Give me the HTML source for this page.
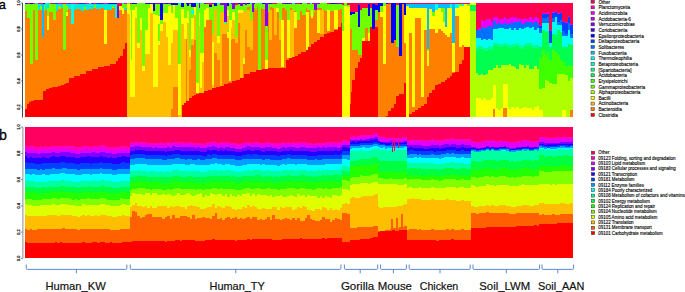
<!DOCTYPE html>
<html><head><meta charset="utf-8"><style>
html,body{margin:0;padding:0;background:#fff;width:685px;height:292px;overflow:hidden}
svg{display:block;font-family:"Liberation Sans",sans-serif}
</style></head><body>
<svg width="685" height="292" viewBox="0 0 685 292">
<rect width="685" height="292" fill="#fff"/>
<defs><filter id="sb" x="0" y="0" width="1" height="1"><feGaussianBlur stdDeviation="0.45"/></filter></defs>
<g shape-rendering="crispEdges" filter="url(#sb)">
<path fill="#ff8000" d="M25 11h2v98h-2zM27 18h2v86h-2zM29 18h1v84h-1zM30 64h1v38h-1zM31 64h2v37h-2zM33 10h1v91h-1zM34 10h1v90h-1zM35 60h3v40h-3zM38 10h4v90h-4zM42 37h1v63h-1zM43 37h1v54h-1zM44 11h1v80h-1zM45 10h1v81h-1zM46 10h1v79h-1zM47 30h2v59h-2zM49 12h3v76h-3zM52 12h1v75h-1zM53 20h3v67h-3zM56 11h2v76h-2zM58 9h3v77h-3zM61 8h2v77h-2zM63 50h1v35h-1zM64 50h2v34h-2zM66 11h2v1h-2zM66 16h2v67h-2zM68 9h1v74h-1zM69 9h2v69h-2zM71 24h3v54h-3zM74 10h2v66h-2zM76 9h4v67h-4zM80 9h1v65h-1zM81 11h3v63h-3zM84 10h2v64h-2zM86 10h3v61h-3zM89 9h3v62h-3zM92 9h2v60h-2zM94 8h2v61h-2zM96 9h2v60h-2zM98 9h3v58h-3zM101 8h3v59h-3zM104 44h3v22h-3zM107 10h3v56h-3zM110 10h2v54h-2zM112 8h3v56h-3zM115 18h1v46h-1zM116 18h2v43h-2zM118 18h1v40h-1zM119 10h1v48h-1zM120 10h2v46h-2zM122 14h1v42h-1zM123 14h1v35h-1zM124 10h1v39h-1zM125 10h2v33h-2zM171 109h2v8h-2zM173 87h5v30h-5zM186 39h1v62h-1zM189 70h2v28h-2zM191 45h1v53h-1zM192 45h2v51h-2zM194 40h2v55h-2zM196 93h3v1h-3zM204 27h2v64h-2zM206 20h2v71h-2zM208 20h4v70h-4zM214 53h2v35h-2zM216 53h1v34h-1zM217 60h3v27h-3zM222 34h2v52h-2zM224 34h3v50h-3zM227 38h1v46h-1zM228 38h1v45h-1zM229 81h2v2h-2zM231 40h1v43h-1zM232 39h3v42h-3zM235 43h1v38h-1zM236 43h2v37h-2zM238 23h2v57h-2zM243 64h1v14h-1zM244 64h1v10h-1zM245 30h2v44h-2zM247 47h3v27h-3zM247 7h3v3h-3zM250 50h3v22h-3zM253 12h1v60h-1zM254 8h1v64h-1zM255 10h1v62h-1zM256 10h1v60h-1zM257 7h1v63h-1zM261 8h1v62h-1zM262 9h3v60h-3zM268 12h1v56h-1zM269 40h3v28h-3zM270 7h2v3h-2zM272 8h2v60h-2zM274 35h3v33h-3zM277 12h2v56h-2zM279 40h2v28h-2zM281 67h3v1h-3zM282 8h2v12h-2zM284 8h1v60h-1zM285 10h1v58h-1zM286 10h1v50h-1zM287 58h2v2h-2zM290 8h2v2h-2zM294 28h1v29h-1zM294 11h2v1h-2zM295 28h2v28h-2zM297 20h1v36h-1zM298 20h2v34h-2zM300 11h1v43h-1zM301 11h1v41h-1zM302 15h4v37h-4zM306 8h1v4h-1zM307 10h2v2h-2zM309 10h1v37h-1zM310 16h1v31h-1zM311 18h2v26h-2zM313 16h1v28h-1zM314 12h1v30h-1zM315 10h2v32h-2zM317 33h3v7h-3zM317 8h5v2h-5zM320 34h4v3h-4zM324 10h1v24h-1zM325 11h2v23h-2zM327 31h3v2h-3zM330 11h4v21h-4zM334 29h4v1h-4zM338 10h2v17h-2zM340 9h1v18h-1zM341 9h1v14h-1zM350 29h1v75h-1zM351 29h1v63h-1zM352 50h3v30h-3zM355 50h3v18h-3zM358 55h2v7h-2zM360 55h2v3h-2zM365 28h3v13h-3zM375 20h3v7h-3zM378 12h2v105h-2zM380 17h3v100h-3zM383 64h3v53h-3zM386 4h2v112h-2zM388 4h3v107h-3zM391 43h3v65h-3zM394 40h2v64h-2zM396 47h3v49h-3zM399 56h3v38h-3zM402 4h2v90h-2zM404 43h2v40h-2zM409 33h3v81h-3zM412 107h3v5h-3zM415 18h3v92h-3zM418 18h3v90h-3zM421 97h3v9h-3zM424 30h3v74h-3zM427 66h2v31h-2zM429 29h3v64h-3zM432 29h3v61h-3zM435 33h3v52h-3zM438 29h3v55h-3zM441 31h2v51h-2zM443 33h2v49h-2zM445 35h2v45h-2zM447 37h3v41h-3zM450 33h2v43h-2zM452 72h3v1h-3zM455 16h4v56h-4zM459 47h3v17h-3zM462 45h2v15h-2zM493 109h2v8h-2zM503 108h4v9h-4zM570 110h3v7h-3z"/>
<path fill="#00ecd8" d="M35 3h3v1h-3zM38 4h2v6h-2zM40 4h2v2h-2zM44 4h1v1h-1zM45 3h2v7h-2zM47 3h2v5h-2zM49 3h1v1h-1zM56 4h2v7h-2zM58 4h3v2h-3zM61 4h2v4h-2zM66 4h2v2h-2zM68 4h3v5h-3zM74 4h2v6h-2zM76 4h5v5h-5zM81 4h3v7h-3zM84 4h2v3h-2zM86 4h3v6h-3zM89 3h2v6h-2zM91 4h3v5h-3zM94 4h2v1h-2zM96 4h5v5h-5zM101 4h3v4h-3zM104 4h8v6h-8zM112 4h2v2h-2zM114 4h1v4h-1zM122 3h2v1h-2zM124 8h3v2h-3z"/>
<path fill="#70ff00" d="M25 4h2v7h-2zM27 4h3v14h-3zM30 4h3v60h-3zM33 4h2v6h-2zM35 4h3v56h-3zM40 6h2v4h-2zM44 5h1v6h-1zM47 8h2v8h-2zM49 4h4v8h-4zM53 4h3v16h-3zM58 6h3v3h-3zM63 4h3v46h-3zM66 6h2v5h-2zM84 7h2v3h-2zM94 5h2v3h-2zM112 6h2v2h-2zM122 4h5v4h-5zM127 3h3v1h-3zM130 4h1v6h-1zM131 4h1v56h-1zM132 4h3v6h-3zM135 4h2v3h-2zM137 3h3v40h-3zM140 3h2v15h-2zM142 3h3v63h-3zM145 4h3v26h-3zM148 4h2v4h-2zM153 11h2v3h-2zM155 4h3v11h-3zM158 24h2v17h-2zM158 4h2v12h-2zM160 20h3v4h-3zM163 4h5v9h-5zM168 4h3v2h-3zM171 5h2v8h-2zM175 5h3v13h-3zM178 4h3v60h-3zM181 7h3v2h-3zM184 3h2v15h-2zM186 4h1v14h-1zM187 6h2v5h-2zM189 4h2v46h-2zM191 7h3v3h-3zM191 14h3v4h-3zM196 4h3v79h-3zM199 10h1v3h-1zM200 4h2v49h-2zM202 3h2v50h-2zM204 4h2v6h-2zM206 4h3v4h-3zM209 7h3v13h-3zM212 4h2v30h-2zM214 6h3v3h-3zM217 4h3v32h-3zM220 5h4v7h-4zM224 23h3v1h-3zM227 30h2v2h-2zM227 6h2v4h-2zM229 4h3v16h-3zM232 9h3v3h-3zM235 5h3v32h-3zM238 4h2v6h-2zM240 6h3v4h-3zM243 4h2v6h-2zM245 5h2v7h-2zM247 4h3v3h-3zM250 4h2v16h-2zM252 12h1v8h-1zM254 4h1v4h-1zM255 3h2v7h-2zM257 3h1v4h-1zM258 3h2v67h-2zM260 4h1v66h-1zM261 4h1v4h-1zM262 4h3v5h-3zM265 26h3v34h-3zM268 4h1v8h-1zM269 4h1v6h-1zM270 4h2v3h-2zM272 4h5v4h-5zM277 3h2v5h-2zM279 3h3v17h-3zM282 4h3v4h-3zM285 4h2v6h-2zM287 4h3v16h-3zM290 4h2v4h-2zM292 4h2v6h-2zM294 4h2v7h-2zM296 4h1v8h-1zM297 4h3v16h-3zM300 4h2v7h-2zM302 3h3v12h-3zM305 4h1v11h-1zM306 4h1v4h-1zM307 4h3v6h-3zM310 4h1v12h-1zM311 4h2v6h-2zM313 4h1v12h-1zM314 10h1v2h-1zM317 4h3v4h-3zM320 3h2v5h-2zM322 3h3v7h-3zM325 3h2v8h-2zM327 4h3v6h-3zM330 4h4v7h-4zM334 4h6v6h-6zM340 4h2v5h-2zM342 5h2v26h-2zM344 3h3v3h-3zM347 5h3v2h-3zM350 15h2v14h-2zM352 14h3v36h-3zM355 12h3v38h-3zM358 27h2v28h-2zM360 10h2v45h-2zM362 8h3v30h-3zM365 8h3v20h-3zM368 16h2v17h-2zM370 8h2v19h-2zM375 10h3v10h-3zM380 6h3v6h-3zM383 3h3v3h-3zM396 5h3v42h-3zM427 49h2v2h-2zM432 12h3v4h-3zM441 8h2v4h-2zM443 8h2v14h-2zM459 4h3v2h-3zM467 4h3v2h-3z"/>
<path fill="#4000ff" d="M25 3h3v1h-3zM43 3h2v1h-2zM79 3h2v1h-2zM99 3h2v1h-2zM130 3h1v1h-1zM135 3h2v1h-2zM145 3h3v1h-3zM150 3h3v1h-3zM186 3h1v1h-1zM204 3h2v1h-2zM254 3h1v1h-1zM268 3h4v1h-4zM285 3h5v1h-5zM335 3h2v1h-2z"/>
<path fill="#ff0050" d="M28 3h2v1h-2zM38 3h5v1h-5zM50 3h3v1h-3zM61 3h5v1h-5zM76 3h3v1h-3zM117 3h5v3h-5zM131 3h1v1h-1zM206 3h3v1h-3zM209 3h3v2h-3zM235 3h3v2h-3zM272 3h5v1h-5zM297 3h3v1h-3zM307 3h3v1h-3zM312 3h2v1h-2zM327 3h3v1h-3zM342 3h2v2h-2zM347 3h3v2h-3zM350 3h8v9h-8zM358 3h2v2h-2zM360 3h2v7h-2zM362 3h6v5h-6zM368 3h2v1h-2zM370 3h2v5h-2zM372 3h3v1h-3zM375 3h3v2h-3zM388 3h3v1h-3zM396 3h3v2h-3zM406 3h64v1h-64zM476 3h2v27h-2zM478 3h3v25h-3zM481 3h2v17h-2zM483 3h3v18h-3zM486 3h5v16h-5zM491 3h2v18h-2zM493 3h5v14h-5zM498 3h6v16h-6zM504 3h2v14h-2zM506 3h3v16h-3zM509 3h2v15h-2zM511 3h5v14h-5zM516 3h3v15h-3zM519 3h5v16h-5zM524 3h2v15h-2zM526 3h3v16h-3zM529 3h3v14h-3zM532 3h2v16h-2zM534 3h3v14h-3zM537 3h2v15h-2zM539 3h3v22h-3zM542 3h5v10h-5zM547 3h2v9h-2zM549 3h3v27h-3zM552 3h3v9h-3zM555 3h2v8h-2zM557 3h3v10h-3zM560 3h2v9h-2zM562 3h3v18h-3zM565 3h3v19h-3zM568 3h2v13h-2zM570 3h3v21h-3z"/>
<path fill="#0000ff" d="M30 3h3v1h-3zM109 3h8v1h-8zM132 3h3v1h-3zM148 3h2v1h-2zM153 3h2v8h-2zM160 3h3v17h-3zM166 3h2v1h-2zM171 3h7v2h-7zM181 3h3v4h-3zM187 3h2v3h-2zM191 3h5v4h-5zM209 5h3v2h-3zM214 3h3v3h-3zM227 3h2v3h-2zM238 3h2v1h-2zM243 3h2v1h-2zM247 3h3v1h-3zM262 3h3v1h-3zM300 3h2v1h-2zM330 3h5v1h-5zM350 12h2v3h-2zM352 12h3v2h-3zM358 5h2v22h-2zM368 4h2v12h-2zM372 4h3v25h-3zM375 5h3v5h-3zM378 3h2v9h-2zM380 3h3v3h-3zM386 3h2v1h-2zM391 3h3v40h-3zM394 3h2v37h-2zM399 3h3v53h-3zM402 3h2v1h-2zM404 3h2v12h-2z"/>
<path fill="#e800ff" d="M33 3h2v1h-2zM58 3h3v1h-3zM66 3h2v1h-2zM71 3h5v1h-5zM86 3h3v1h-3zM94 3h2v1h-2zM104 3h3v1h-3zM124 3h3v1h-3zM478 28h3v2h-3zM481 20h2v7h-2zM483 21h3v7h-3zM486 19h2v8h-2zM488 19h3v7h-3zM491 21h2v6h-2zM493 17h3v4h-3zM496 17h2v7h-2zM498 19h3v4h-3zM501 19h3v5h-3zM504 17h2v6h-2zM506 19h3v5h-3zM509 18h2v5h-2zM511 17h3v6h-3zM514 17h2v5h-2zM516 18h3v4h-3zM519 19h2v2h-2zM521 19h3v5h-3zM524 18h2v5h-2zM526 19h3v3h-3zM529 17h3v5h-3zM532 19h2v4h-2zM534 17h3v5h-3zM537 18h2v5h-2zM539 25h3v1h-3zM542 13h5v1h-5zM547 12h2v2h-2zM549 30h3v1h-3zM552 12h3v1h-3zM555 11h2v1h-2zM557 13h3v1h-3zM560 12h2v1h-2zM562 21h3v1h-3zM565 22h3v1h-3zM568 16h2v1h-2zM570 24h3v1h-3z"/>
<path fill="#0040ff" d="M25 162h2v7h-2zM27 163h8v6h-8zM35 164h2v5h-2zM37 164h3v6h-3zM40 164h2v5h-2zM42 163h3v7h-3zM45 163h7v6h-7zM52 163h3v5h-3zM53 3h5v1h-5zM55 163h5v6h-5zM60 162h2v7h-2zM62 162h3v6h-3zM65 163h2v5h-2zM68 3h3v1h-3zM67 163h8v6h-8zM75 164h2v5h-2zM77 164h3v6h-3zM81 3h3v1h-3zM80 163h10v6h-10zM90 164h2v5h-2zM96 3h3v1h-3zM92 163h8v6h-8zM100 162h2v6h-2zM102 163h10v6h-10zM112 164h5v6h-5zM117 164h3v5h-3zM120 163h2v6h-2zM122 162h3v7h-3zM125 163h5v6h-5zM130 155h2v4h-2zM132 154h3v5h-3zM135 154h10v4h-10zM145 155h17v4h-17zM162 155h3v5h-3zM165 156h2v4h-2zM167 155h5v4h-5zM172 154h3v5h-3zM175 154h5v4h-5zM180 155h5v4h-5zM185 155h2v5h-2zM187 155h5v4h-5zM192 155h5v5h-5zM197 155h3v4h-3zM200 155h2v5h-2zM202 156h3v4h-3zM205 156h2v3h-2zM207 154h3v5h-3zM210 155h2v4h-2zM212 154h5v4h-5zM217 155h18v4h-18zM235 156h7v4h-7zM242 155h5v4h-5zM247 154h3v5h-3zM250 155h2v4h-2zM252 154h5v5h-5zM257 155h5v4h-5zM262 155h3v5h-3zM265 155h5v4h-5zM270 155h7v5h-7zM277 156h3v4h-3zM280 155h2v5h-2zM282 155h5v4h-5zM287 154h3v4h-3zM290 155h17v4h-17zM307 156h8v4h-8zM315 156h2v3h-2zM317 155h5v5h-5zM322 155h13v4h-13zM335 154h2v5h-2zM337 155h3v4h-3zM340 154h2v5h-2zM342 151h8v4h-8zM350 144h10v2h-10zM360 143h13v2h-13zM373 142h5v2h-5zM378 143h2v2h-2zM380 144h5v1h-5zM385 145h5v1h-5zM390 144h2v2h-2zM393 145h1v1h-1zM395 144h2v2h-2zM397 145h1v1h-1zM399 144h8v2h-8zM407 151h2v4h-2zM409 150h5v4h-5zM414 151h3v3h-3zM417 151h2v4h-2zM419 151h2v3h-2zM421 151h10v4h-10zM431 151h3v3h-3zM434 152h2v3h-2zM436 151h5v4h-5zM441 151h5v3h-5zM446 150h3v3h-3zM449 150h2v4h-2zM451 150h3v3h-3zM454 150h2v4h-2zM456 151h5v3h-5zM461 150h3v4h-3zM464 151h7v3h-7zM471 149h5v1h-5zM476 150h3v1h-3zM481 149h5v1h-5zM486 148h3v1h-3zM489 149h2v1h-2zM491 148h3v1h-3zM494 149h5v1h-5zM499 148h10v1h-10zM509 149h2v2h-2zM516 149h6v1h-6zM522 148h7v1h-7zM529 149h5v1h-5zM534 148h5v1h-5zM539 145h3v1h-3zM539 26h3v2h-3zM542 145h2v2h-2zM542 14h5v4h-5zM544 146h3v1h-3zM547 14h2v3h-2zM547 146h3v2h-3zM549 31h3v12h-3zM552 13h3v5h-3zM550 146h7v1h-7zM555 12h2v5h-2zM557 14h3v8h-3zM557 145h3v2h-3zM560 13h2v7h-2zM560 145h5v1h-5zM562 22h3v9h-3zM565 23h3v11h-3zM565 145h3v2h-3zM568 17h2v6h-2zM568 146h2v1h-2zM570 145h3v1h-3zM570 25h3v9h-3z"/>
<path fill="#8000ff" d="M25 152h2v4h-2zM27 153h3v5h-3zM30 153h2v4h-2zM32 153h5v5h-5zM37 154h3v4h-3zM40 153h2v5h-2zM42 153h3v4h-3zM45 153h5v5h-5zM50 153h2v4h-2zM52 152h3v4h-3zM55 153h5v4h-5zM60 152h5v4h-5zM65 152h5v5h-5zM70 153h5v4h-5zM75 154h5v4h-5zM84 3h2v1h-2zM80 153h7v4h-7zM87 153h3v3h-3zM90 153h2v4h-2zM91 3h3v1h-3zM92 152h3v5h-3zM95 153h5v4h-5zM100 152h2v4h-2zM101 3h3v1h-3zM102 152h3v5h-3zM105 153h2v4h-2zM107 3h2v1h-2zM107 153h3v5h-3zM110 153h2v4h-2zM112 154h5v4h-5zM117 6h2v12h-2zM117 153h5v4h-5zM122 153h3v3h-3zM125 153h5v4h-5zM130 147h5v4h-5zM135 146h5v4h-5zM140 147h5v3h-5zM145 147h7v4h-7zM152 148h3v3h-3zM155 147h2v4h-2zM155 3h5v1h-5zM157 148h8v3h-8zM163 3h3v1h-3zM165 148h2v4h-2zM167 147h3v4h-3zM168 3h3v1h-3zM170 148h2v3h-2zM172 146h3v5h-3zM175 147h5v3h-5zM189 3h2v1h-2zM180 147h15v4h-15zM195 148h2v3h-2zM197 147h3v4h-3zM199 3h1v5h-1zM200 148h7v4h-7zM207 147h3v3h-3zM210 147h2v4h-2zM212 3h2v1h-2zM212 146h3v4h-3zM215 147h2v3h-2zM217 148h3v3h-3zM220 147h2v3h-2zM220 3h4v2h-4zM222 148h3v3h-3zM224 3h3v19h-3zM225 147h2v3h-2zM227 147h3v4h-3zM231 3h1v1h-1zM230 148h5v3h-5zM232 3h3v6h-3zM235 149h7v3h-7zM240 3h3v3h-3zM242 148h3v3h-3zM245 3h2v2h-2zM245 147h2v4h-2zM247 146h3v4h-3zM252 3h2v9h-2zM250 147h5v4h-5zM255 147h5v3h-5zM260 148h2v3h-2zM262 148h3v4h-3zM265 3h3v23h-3zM265 147h7v4h-7zM272 148h5v3h-5zM277 149h3v3h-3zM280 148h2v4h-2zM282 147h3v4h-3zM282 3h3v1h-3zM285 148h2v3h-2zM287 147h3v4h-3zM290 147h2v3h-2zM290 3h2v1h-2zM292 147h3v4h-3zM295 3h2v1h-2zM295 148h5v3h-5zM300 147h5v4h-5zM305 148h5v3h-5zM310 148h7v4h-7zM314 3h3v7h-3zM317 147h3v4h-3zM317 3h3v1h-3zM320 148h2v3h-2zM322 147h3v4h-3zM325 148h2v3h-2zM327 147h8v4h-8zM335 147h2v3h-2zM337 148h3v3h-3zM337 3h5v1h-5zM340 147h2v3h-2zM342 145h5v2h-5zM347 145h3v3h-3zM350 140h2v2h-2zM352 140h3v1h-3zM355 140h2v2h-2zM357 140h3v1h-3zM360 139h2v2h-2zM362 140h3v1h-3zM365 139h5v2h-5zM370 138h5v2h-5zM375 137h3v2h-3zM383 142h7v1h-7zM390 141h2v2h-2zM393 142h1v1h-1zM395 142h3v1h-3zM399 142h5v1h-5zM404 141h3v1h-3zM407 145h2v3h-2zM409 145h3v2h-3zM412 145h9v3h-9zM421 146h3v2h-3zM424 146h5v3h-5zM429 146h2v2h-2zM431 145h8v3h-8zM439 146h2v3h-2zM441 145h3v3h-3zM444 144h2v4h-2zM446 144h3v3h-3zM449 145h2v2h-2zM451 144h5v3h-5zM456 145h5v3h-5zM461 144h3v3h-3zM464 145h7v3h-7zM471 147h5v1h-5zM476 148h5v1h-5zM484 147h2v1h-2zM486 146h3v1h-3zM489 147h2v1h-2zM494 147h5v1h-5zM504 146h2v1h-2zM506 147h3v1h-3zM509 148h7v1h-7zM516 147h6v1h-6zM527 146h2v1h-2zM529 147h5v1h-5zM537 147h2v1h-2zM539 142h5v2h-5zM544 143h3v2h-3zM547 143h13v1h-13zM560 142h13v2h-13z"/>
<path fill="#ff0000" d="M25 109h2v8h-2zM25 242h2v16h-2zM27 104h2v13h-2zM29 102h2v15h-2zM31 101h3v16h-3zM34 100h9v17h-9zM43 91h3v26h-3zM46 89h3v28h-3zM49 88h3v29h-3zM27 243h28v15h-28zM55 242h2v16h-2zM52 87h6v30h-6zM57 243h3v15h-3zM58 86h3v31h-3zM60 242h2v16h-2zM61 85h3v32h-3zM64 84h2v33h-2zM66 83h3v34h-3zM69 78h5v39h-5zM74 76h6v41h-6zM62 243h20v15h-20zM82 242h3v16h-3zM80 74h6v43h-6zM85 243h7v15h-7zM86 71h6v46h-6zM92 242h5v16h-5zM92 69h6v48h-6zM97 243h3v15h-3zM98 67h6v50h-6zM100 242h5v16h-5zM104 66h6v51h-6zM105 243h5v15h-5zM110 242h2v16h-2zM110 64h6v53h-6zM116 61h2v56h-2zM118 58h2v59h-2zM112 243h10v15h-10zM120 56h3v61h-3zM123 49h2v68h-2zM125 43h2v74h-2zM122 242h10v16h-10zM132 241h33v17h-33zM165 242h2v16h-2zM167 241h8v17h-8zM175 240h5v18h-5zM180 241h2v17h-2zM182 105h2v12h-2zM184 103h2v14h-2zM186 101h3v16h-3zM189 98h3v19h-3zM192 96h2v21h-2zM182 240h13v18h-13zM194 95h2v22h-2zM196 94h3v23h-3zM199 93h5v24h-5zM195 241h10v17h-10zM204 91h4v26h-4zM205 240h7v18h-7zM208 90h4v27h-4zM212 239h3v19h-3zM212 88h4v29h-4zM216 87h4v30h-4zM220 86h4v31h-4zM224 84h4v33h-4zM228 83h4v34h-4zM215 240h20v18h-20zM232 81h4v36h-4zM235 241h2v17h-2zM236 80h4v37h-4zM240 78h4v39h-4zM237 240h10v18h-10zM244 74h6v43h-6zM247 239h3v19h-3zM250 240h2v18h-2zM250 72h6v45h-6zM256 70h6v47h-6zM262 69h6v48h-6zM252 239h20v19h-20zM272 240h10v18h-10zM268 68h18v49h-18zM286 60h3v57h-3zM289 58h3v59h-3zM292 57h3v60h-3zM295 56h3v61h-3zM282 239h18v19h-18zM298 54h3v63h-3zM300 238h2v20h-2zM301 52h5v65h-5zM306 50h2v67h-2zM308 47h3v70h-3zM311 44h3v73h-3zM314 42h3v75h-3zM317 40h3v77h-3zM302 239h20v19h-20zM320 37h4v80h-4zM322 238h3v20h-3zM324 34h3v83h-3zM325 239h2v19h-2zM327 33h3v84h-3zM330 32h4v85h-4zM334 30h4v87h-4zM338 27h3v90h-3zM327 238h15v20h-15zM341 23h1v94h-1zM342 242h8v16h-8zM350 104h1v13h-1zM351 92h1v25h-1zM352 80h3v37h-3zM355 68h3v49h-3zM350 240h10v18h-10zM358 62h2v55h-2zM360 58h2v59h-2zM360 239h10v19h-10zM362 41h8v76h-8zM370 27h2v90h-2zM370 238h3v20h-3zM372 29h3v88h-3zM373 237h5v21h-5zM375 27h3v90h-3zM378 232h2v26h-2zM386 116h2v1h-2zM388 111h3v6h-3zM380 231h12v27h-12zM391 108h3v9h-3zM392 230h3v28h-3zM394 104h2v13h-2zM395 231h4v27h-4zM396 96h3v21h-3zM399 94h5v23h-5zM404 83h2v34h-2zM399 230h8v28h-8zM409 114h3v3h-3zM412 112h3v5h-3zM415 110h3v7h-3zM418 108h3v9h-3zM421 106h3v11h-3zM424 104h3v13h-3zM427 97h2v20h-2zM429 93h3v24h-3zM432 90h3v27h-3zM407 240h29v18h-29zM435 85h3v32h-3zM436 241h3v17h-3zM438 84h3v33h-3zM441 82h4v35h-4zM445 80h2v37h-2zM447 78h3v39h-3zM439 240h12v18h-12zM450 76h2v41h-2zM451 239h3v19h-3zM452 73h3v44h-3zM455 72h4v45h-4zM459 64h3v53h-3zM462 60h2v57h-2zM464 47h6v70h-6zM454 240h17v18h-17zM471 228h15v30h-15zM486 227h30v31h-30zM516 226h18v32h-18zM534 225h3v33h-3zM537 226h2v32h-2zM539 224h18v34h-18zM557 223h16v35h-16z"/>
<path fill="#00c0ff" d="M42 4h2v33h-2zM406 4h3v2h-3zM409 4h18v4h-18zM427 4h2v45h-2zM429 4h3v5h-3zM432 4h3v8h-3zM438 4h7v4h-7zM445 4h2v23h-2zM447 4h3v4h-3zM452 4h3v39h-3z"/>
<path fill="#ffff00" d="M47 16h2v14h-2zM66 12h2v4h-2zM104 10h3v34h-3zM119 6h3v4h-3zM122 8h2v6h-2zM127 4h3v10h-3zM130 10h1v87h-1zM131 60h1v37h-1zM132 10h3v87h-3zM135 7h2v11h-2zM137 43h3v5h-3zM140 18h2v12h-2zM142 66h3v5h-3zM145 30h3v24h-3zM148 8h2v46h-2zM150 4h3v9h-3zM153 14h2v73h-2zM155 15h3v72h-3zM158 41h2v4h-2zM158 16h2v8h-2zM160 24h3v7h-3zM163 13h3v9h-3zM166 13h2v24h-2zM168 6h3v59h-3zM171 13h2v30h-2zM173 5h2v25h-2zM175 18h3v12h-3zM178 64h3v51h-3zM181 9h3v15h-3zM184 18h3v21h-3zM187 11h2v12h-2zM189 50h2v7h-2zM191 18h3v21h-3zM194 7h2v8h-2zM196 83h3v10h-3zM199 13h1v13h-1zM200 53h2v35h-2zM202 53h2v9h-2zM204 10h2v17h-2zM206 8h3v12h-3zM212 42h2v43h-2zM217 36h3v7h-3zM227 32h2v6h-2zM227 10h2v6h-2zM229 20h2v61h-2zM231 20h1v8h-1zM232 12h3v8h-3zM238 10h5v3h-5zM243 58h2v6h-2zM265 60h3v9h-3zM276 8h3v4h-3zM281 20h3v47h-3zM287 20h3v38h-3zM294 12h3v16h-3zM306 12h2v38h-2zM308 12h1v35h-1zM311 10h2v8h-2zM317 10h3v23h-3zM327 10h3v21h-3zM334 10h4v19h-4zM342 31h2v86h-2zM344 6h3v111h-3zM347 7h3v110h-3zM362 38h3v3h-3zM368 33h2v8h-2zM380 12h3v5h-3zM383 6h3v58h-3zM404 15h2v28h-2zM406 6h3v111h-3zM409 8h3v25h-3zM412 8h3v99h-3zM415 8h6v10h-6zM421 8h3v89h-3zM424 8h3v22h-3zM427 51h2v15h-2zM429 9h3v20h-3zM432 16h3v13h-3zM435 10h3v23h-3zM438 8h3v21h-3zM441 12h2v19h-2zM443 22h2v11h-2zM445 27h2v8h-2zM447 8h3v29h-3zM450 8h2v25h-2zM452 43h3v29h-3zM455 8h4v8h-4zM459 6h3v41h-3zM462 6h2v39h-2zM464 4h3v43h-3zM467 6h3v41h-3zM470 3h6v2h-6zM476 98h5v19h-5zM481 100h2v17h-2zM483 98h3v19h-3zM486 100h5v17h-5zM491 98h2v19h-2zM493 85h2v24h-2zM495 85h1v32h-1zM496 108h2v9h-2zM498 110h3v7h-3zM501 108h2v9h-2zM503 84h4v24h-4zM507 84h1v33h-1zM508 107h1v10h-1zM509 109h2v8h-2zM511 107h3v10h-3zM514 108h2v9h-2zM516 107h3v10h-3zM519 109h2v8h-2zM521 108h3v9h-3zM524 107h2v10h-2zM526 108h6v9h-6zM532 110h2v7h-2zM534 107h3v10h-3zM537 106h2v11h-2zM539 110h4v7h-4zM562 110h4v7h-4z"/>
<path fill="#00ffee" d="M71 4h3v20h-3zM178 3h3v1h-3zM191 10h3v4h-3zM196 3h3v1h-3zM199 8h1v2h-1zM200 3h2v1h-2zM217 3h3v1h-3zM224 22h3v1h-3zM229 3h2v1h-2zM250 3h2v1h-2zM260 3h2v1h-2zM292 3h3v1h-3zM305 3h2v1h-2zM310 3h2v1h-2zM435 4h3v6h-3zM450 4h2v4h-2zM455 4h4v4h-4zM462 4h2v2h-2zM476 38h2v10h-2zM478 38h3v8h-3zM481 40h2v6h-2zM483 39h3v9h-3zM486 40h2v8h-2zM488 39h3v7h-3zM491 40h2v8h-2zM493 29h5v14h-5zM498 28h6v16h-6zM504 29h2v14h-2zM506 29h3v15h-3zM509 28h2v17h-2zM511 30h3v14h-3zM514 28h2v16h-2zM516 30h3v13h-3zM519 28h2v17h-2zM521 29h3v17h-3zM524 28h2v16h-2zM526 27h3v16h-3zM529 28h3v15h-3zM532 27h2v18h-2zM534 30h3v15h-3zM537 28h2v17h-2zM539 33h3v14h-3zM542 23h3v7h-3zM545 23h2v9h-2zM547 23h2v8h-2zM549 43h3v4h-3zM552 22h3v12h-3zM555 17h2v18h-2zM557 25h3v5h-3zM560 25h2v7h-2zM562 36h6v11h-6zM568 30h2v14h-2zM570 38h3v7h-3z"/>
<path fill="#00ffc0" d="M115 4h2v14h-2z"/>
<path fill="#ffbf00" d="M25 215h2v14h-2zM27 216h3v14h-3zM30 216h2v13h-2zM32 216h5v14h-5zM37 216h10v13h-10zM47 215h10v14h-10zM57 216h3v13h-3zM60 215h2v14h-2zM62 215h3v13h-3zM65 215h7v14h-7zM72 216h5v13h-5zM77 217h3v13h-3zM80 216h2v13h-2zM82 215h3v14h-3zM85 216h2v13h-2zM87 215h3v14h-3zM90 216h5v13h-5zM95 215h2v14h-2zM97 216h3v13h-3zM100 215h7v14h-7zM107 216h3v13h-3zM110 216h2v14h-2zM112 217h5v13h-5zM117 216h3v14h-3zM120 216h2v13h-2zM122 215h3v14h-3zM125 216h5v13h-5zM127 14h3v103h-3zM130 207h2v10h-2zM130 97h5v20h-5zM132 205h3v6h-3zM135 203h2v9h-2zM135 18h2v99h-2zM137 48h3v69h-3zM137 206h3v10h-3zM140 206h2v12h-2zM140 30h2v87h-2zM142 207h3v10h-3zM142 71h3v46h-3zM145 206h2v9h-2zM145 54h5v63h-5zM147 208h3v6h-3zM150 206h2v8h-2zM150 13h3v104h-3zM152 208h5v9h-5zM153 87h5v30h-5zM158 45h2v72h-2zM157 206h5v11h-5zM160 31h3v86h-3zM162 206h3v13h-3zM163 22h3v95h-3zM165 206h2v11h-2zM166 37h2v80h-2zM167 208h3v8h-3zM168 65h3v52h-3zM170 206h2v13h-2zM171 43h2v66h-2zM172 207h3v8h-3zM173 30h5v57h-5zM175 206h5v12h-5zM178 115h3v2h-3zM181 24h1v93h-1zM182 24h2v81h-2zM180 207h5v9h-5zM184 39h2v64h-2zM185 209h2v7h-2zM187 23h2v78h-2zM187 206h3v11h-3zM189 57h2v13h-2zM190 205h2v14h-2zM191 39h3v6h-3zM192 206h3v9h-3zM194 15h2v25h-2zM195 206h2v13h-2zM197 207h3v11h-3zM199 26h1v67h-1zM200 88h2v5h-2zM200 209h2v9h-2zM202 62h2v31h-2zM202 209h3v8h-3zM205 208h2v10h-2zM207 207h3v11h-3zM210 207h2v12h-2zM212 85h2v3h-2zM212 34h2v8h-2zM212 204h3v12h-3zM214 9h3v44h-3zM215 208h2v5h-2zM217 43h3v17h-3zM217 206h3v13h-3zM220 207h2v11h-2zM220 12h2v74h-2zM222 12h2v22h-2zM222 208h3v12h-3zM224 24h3v10h-3zM225 206h2v12h-2zM227 16h2v14h-2zM227 206h3v11h-3zM230 207h2v12h-2zM231 28h1v12h-1zM232 20h3v19h-3zM232 209h3v9h-3zM235 210h2v7h-2zM235 37h3v6h-3zM237 209h3v10h-3zM238 13h2v10h-2zM240 209h2v9h-2zM240 13h3v65h-3zM242 207h3v12h-3zM243 10h2v48h-2zM245 208h2v10h-2zM245 12h2v18h-2zM247 205h3v12h-3zM247 10h3v37h-3zM250 207h2v12h-2zM250 20h3v30h-3zM252 206h3v11h-3zM255 207h2v10h-2zM257 209h3v11h-3zM260 209h2v10h-2zM262 208h3v12h-3zM265 209h2v10h-2zM267 209h3v8h-3zM269 10h3v30h-3zM270 209h2v11h-2zM272 207h3v8h-3zM274 8h2v27h-2zM275 207h2v12h-2zM276 12h1v23h-1zM277 210h3v9h-3zM279 20h2v20h-2zM280 207h2v13h-2zM282 208h3v11h-3zM285 207h2v11h-2zM287 207h3v12h-3zM290 207h2v13h-2zM290 10h2v48h-2zM292 10h2v47h-2zM292 210h3v8h-3zM295 209h2v11h-2zM297 207h3v11h-3zM300 208h2v13h-2zM302 206h3v15h-3zM305 207h2v11h-2zM307 210h3v5h-3zM310 210h2v9h-2zM312 211h3v9h-3zM315 209h5v12h-5zM320 210h2v10h-2zM320 10h4v24h-4zM322 207h3v10h-3zM325 208h2v11h-2zM327 210h3v9h-3zM330 208h2v14h-2zM332 210h3v10h-3zM335 209h2v9h-2zM337 210h3v9h-3zM340 208h2v12h-2zM342 204h3v9h-3zM345 203h2v10h-2zM347 204h3v10h-3zM350 198h2v30h-2zM352 197h3v31h-3zM355 198h2v30h-2zM357 198h3v29h-3zM360 197h2v30h-2zM362 196h11v31h-11zM373 195h2v31h-2zM375 194h3v32h-3zM378 207h2v24h-2zM380 208h3v23h-3zM383 207h2v24h-2zM385 207h5v23h-5zM390 207h1v22h-1zM391 207h2v12h-2zM393 207h3v21h-3zM396 207h1v11h-1zM397 206h1v12h-1zM398 206h1v22h-1zM399 206h2v21h-2zM401 206h1v8h-1zM402 205h1v9h-1zM403 205h1v22h-1zM404 204h3v22h-3zM407 199h2v31h-2zM409 199h3v30h-3zM412 198h2v31h-2zM414 199h3v30h-3zM417 199h2v31h-2zM419 199h2v30h-2zM421 200h10v30h-10zM431 199h3v30h-3zM434 200h12v30h-12zM446 199h3v30h-3zM449 200h2v30h-2zM451 200h3v29h-3zM454 200h2v30h-2zM456 201h5v29h-5zM461 200h3v29h-3zM464 201h7v29h-7zM471 206h3v7h-3zM474 207h2v6h-2zM476 207h3v7h-3zM479 206h7v7h-7zM486 205h3v7h-3zM489 206h2v7h-2zM491 205h3v8h-3zM494 206h5v7h-5zM499 205h7v8h-7zM506 206h3v7h-3zM509 206h2v8h-2zM511 207h5v7h-5zM516 206h6v7h-6zM522 205h7v8h-7zM529 206h5v7h-5zM534 205h5v8h-5zM539 203h3v12h-3zM542 203h2v11h-2zM544 204h8v11h-8zM552 204h3v10h-3zM555 204h5v11h-5zM560 203h5v11h-5zM565 204h5v10h-5zM570 203h3v11h-3z"/>
<path fill="#00ff50" d="M470 5h6v6h-6zM476 51h2v22h-2zM478 49h3v26h-3zM481 49h2v25h-2zM483 51h3v24h-3zM486 51h2v23h-2zM488 49h3v21h-3zM491 51h2v19h-2zM493 46h3v22h-3zM496 46h2v19h-2zM498 47h3v21h-3zM501 47h3v18h-3zM504 46h2v19h-2zM506 47h3v18h-3zM509 48h2v16h-2zM511 47h3v19h-3zM514 47h2v20h-2zM516 46h3v23h-3zM519 48h2v16h-2zM521 49h3v16h-3zM524 47h2v21h-2zM526 46h3v19h-3zM529 46h3v23h-3zM532 48h2v21h-2zM534 48h3v18h-3zM537 48h2v21h-2zM539 47h3v11h-3zM542 30h3v20h-3zM545 32h2v23h-2zM547 31h2v21h-2zM549 47h3v13h-3zM552 34h3v16h-3zM555 35h2v17h-2zM557 30h3v25h-3zM560 32h2v28h-2zM562 47h3v15h-3zM565 47h3v19h-3zM568 44h2v21h-2zM570 45h3v21h-3z"/>
<path fill="#b0ff00" d="M470 11h6v106h-6zM476 73h2v25h-2zM478 75h3v23h-3zM481 74h2v26h-2zM483 75h3v23h-3zM486 74h2v26h-2zM488 70h3v30h-3zM491 70h2v28h-2zM493 68h3v17h-3zM496 65h2v43h-2zM498 68h3v42h-3zM501 65h2v43h-2zM503 65h5v19h-5zM508 65h1v42h-1zM509 64h2v45h-2zM511 66h3v41h-3zM514 67h2v41h-2zM516 69h3v38h-3zM519 64h2v45h-2zM521 65h3v43h-3zM524 68h2v39h-2zM526 65h3v43h-3zM529 69h3v39h-3zM532 69h2v41h-2zM534 66h3v41h-3zM537 69h2v37h-2zM539 89h3v21h-3zM542 88h1v22h-1zM543 88h2v29h-2zM545 80h2v37h-2zM547 81h2v36h-2zM549 83h3v34h-3zM552 84h5v33h-5zM557 74h5v43h-5zM562 74h3v36h-3zM565 75h1v35h-1zM566 75h2v42h-2zM568 81h2v36h-2zM570 78h3v32h-3z"/>
<path fill="#0070ff" d="M476 30h5v8h-5zM481 27h2v13h-2zM483 28h3v11h-3zM486 27h2v13h-2zM488 26h3v13h-3zM491 27h2v13h-2zM493 21h3v8h-3zM496 24h2v5h-2zM498 23h3v5h-3zM501 24h3v4h-3zM504 23h2v6h-2zM506 24h3v5h-3zM509 23h2v5h-2zM511 23h3v7h-3zM514 22h2v6h-2zM516 22h3v8h-3zM519 21h2v7h-2zM521 24h3v5h-3zM524 23h2v5h-2zM526 22h3v5h-3zM529 22h3v6h-3zM532 23h2v4h-2zM534 22h3v8h-3zM537 23h2v5h-2zM539 28h3v5h-3zM542 18h5v5h-5zM547 17h2v6h-2zM552 18h3v4h-3zM557 22h3v3h-3zM560 20h2v5h-2zM562 31h3v5h-3zM565 34h3v2h-3zM568 23h2v7h-2zM570 34h3v4h-3z"/>
<path fill="#00ff90" d="M476 48h2v3h-2zM478 46h5v3h-5zM483 48h5v3h-5zM488 46h3v3h-3zM491 48h2v3h-2zM493 43h5v3h-5zM498 44h6v3h-6zM504 43h2v3h-2zM506 44h3v3h-3zM509 45h2v3h-2zM511 44h5v3h-5zM516 43h3v3h-3zM519 45h2v3h-2zM521 46h3v3h-3zM524 44h2v3h-2zM526 43h6v3h-6zM532 45h7v3h-7z"/>
<path fill="#40ff00" d="M539 58h3v31h-3zM542 50h3v38h-3zM545 55h2v25h-2zM547 52h2v29h-2zM549 60h3v23h-3zM552 50h3v34h-3zM555 52h2v32h-2zM557 55h3v19h-3zM560 60h2v14h-2zM562 62h3v12h-3zM565 66h3v9h-3zM568 65h2v16h-2zM570 66h3v12h-3z"/>
<path fill="#ff0060" d="M25 127h2v18h-2zM27 127h8v19h-8zM35 127h5v20h-5zM40 127h2v19h-2zM42 127h3v20h-3zM45 127h2v19h-2zM47 127h3v20h-3zM50 127h25v19h-25zM75 127h7v20h-7zM82 127h8v19h-8zM90 127h2v20h-2zM92 127h8v19h-8zM100 127h5v18h-5zM105 127h2v19h-2zM107 127h13v20h-13zM120 127h7v19h-7zM127 127h3v20h-3zM130 127h5v15h-5zM135 127h2v14h-2zM137 127h10v15h-10zM147 127h13v16h-13zM160 127h2v15h-2zM162 127h5v16h-5zM167 127h3v15h-3zM170 127h2v16h-2zM172 127h13v15h-13zM185 127h2v16h-2zM187 127h5v15h-5zM192 127h10v16h-10zM202 127h3v17h-3zM205 127h2v16h-2zM207 127h5v15h-5zM212 127h3v14h-3zM215 127h2v15h-2zM217 127h3v16h-3zM220 127h10v15h-10zM230 127h7v16h-7zM237 127h5v17h-5zM242 127h3v16h-3zM245 127h5v15h-5zM250 127h2v16h-2zM252 127h8v15h-8zM260 127h5v16h-5zM265 127h5v15h-5zM270 127h12v16h-12zM282 127h3v15h-3zM285 127h2v16h-2zM287 127h3v15h-3zM290 127h2v16h-2zM292 127h3v15h-3zM295 127h2v16h-2zM297 127h10v15h-10zM307 127h5v16h-5zM312 127h3v17h-3zM315 127h10v16h-10zM325 127h17v15h-17zM342 127h5v13h-5zM347 127h3v14h-3zM350 127h2v10h-2zM352 127h3v9h-3zM355 127h2v10h-2zM357 127h3v9h-3zM360 127h13v8h-13zM373 127h2v7h-2zM375 127h3v6h-3zM378 127h2v9h-2zM380 127h5v10h-5zM392 140h1v12h-1zM394 140h1v11h-1zM398 140h1v8h-1zM385 127h17v11h-17zM402 127h5v10h-5zM407 127h5v13h-5zM412 127h2v12h-2zM414 127h17v13h-17zM431 127h3v12h-3zM434 127h10v13h-10zM444 127h7v12h-7zM451 127h3v11h-3zM454 127h17v12h-17zM471 127h3v14h-3zM474 127h7v15h-7zM481 127h5v14h-5zM486 127h3v13h-3zM489 127h2v14h-2zM491 127h3v13h-3zM494 127h5v14h-5zM499 127h2v13h-2zM501 127h8v14h-8zM509 127h7v15h-7zM516 127h6v14h-6zM522 127h7v13h-7zM529 127h10v14h-10zM539 127h8v10h-8zM547 127h8v11h-8zM555 127h18v10h-18z"/>
<path fill="#ff00bf" d="M25 145h2v4h-2zM27 146h5v3h-5zM32 146h3v4h-3zM35 147h2v3h-2zM37 147h3v4h-3zM40 146h2v4h-2zM42 147h3v2h-3zM45 146h2v4h-2zM47 147h3v3h-3zM50 146h7v3h-7zM57 146h3v4h-3zM60 146h10v3h-10zM70 146h5v4h-5zM75 147h2v3h-2zM77 147h3v4h-3zM80 147h2v3h-2zM82 146h3v3h-3zM85 146h2v4h-2zM87 146h3v3h-3zM90 147h2v3h-2zM92 146h8v3h-8zM100 145h5v4h-5zM105 146h2v3h-2zM107 147h5v3h-5zM112 147h3v4h-3zM115 147h5v3h-5zM120 146h5v3h-5zM125 146h2v4h-2zM127 147h3v2h-3zM130 142h5v2h-5zM135 141h2v3h-2zM137 142h3v2h-3zM140 142h2v1h-2zM142 142h5v2h-5zM147 143h10v2h-10zM157 143h3v1h-3zM160 142h2v3h-2zM162 143h5v2h-5zM167 142h3v3h-3zM170 143h2v2h-2zM172 142h3v1h-3zM175 142h10v2h-10zM185 143h2v2h-2zM187 142h5v2h-5zM192 143h10v2h-10zM202 144h3v2h-3zM205 143h2v2h-2zM207 142h5v2h-5zM212 141h3v3h-3zM215 142h2v2h-2zM217 143h3v2h-3zM220 142h10v2h-10zM230 143h7v2h-7zM237 144h3v2h-3zM240 144h2v1h-2zM242 143h3v2h-3zM245 142h5v2h-5zM250 143h2v2h-2zM252 142h8v2h-8zM260 143h5v2h-5zM265 142h5v2h-5zM270 143h7v2h-7zM277 143h3v3h-3zM280 143h2v2h-2zM282 142h3v2h-3zM285 143h2v1h-2zM287 142h3v2h-3zM290 143h2v1h-2zM292 142h3v2h-3zM295 143h2v2h-2zM297 142h8v2h-8zM305 142h2v3h-2zM307 143h5v2h-5zM312 144h3v1h-3zM315 143h10v2h-10zM325 142h2v3h-2zM327 142h3v2h-3zM330 142h2v3h-2zM332 142h10v2h-10zM342 140h3v3h-3zM345 140h2v2h-2zM347 141h3v2h-3zM350 137h2v1h-2zM352 136h3v2h-3zM357 136h3v2h-3zM360 135h10v2h-10zM370 135h3v1h-3zM373 134h2v1h-2zM375 133h3v2h-3zM378 136h2v2h-2zM380 137h5v1h-5zM385 138h5v1h-5zM392 138h10v1h-10zM402 137h2v2h-2zM404 137h3v1h-3zM407 140h5v2h-5zM412 139h2v2h-2zM414 140h7v1h-7zM421 140h10v2h-10zM431 139h3v2h-3zM434 140h5v2h-5zM439 140h2v3h-2zM441 140h3v2h-3zM444 139h7v2h-7zM451 138h3v2h-3zM454 139h10v2h-10zM464 139h5v3h-5zM469 139h2v2h-2zM471 141h3v1h-3zM474 142h7v1h-7zM481 141h3v2h-3zM484 141h2v1h-2zM486 140h3v1h-3zM489 141h2v1h-2zM491 140h3v1h-3zM494 141h2v1h-2zM496 141h3v2h-3zM499 140h2v1h-2zM501 141h8v1h-8zM509 142h7v1h-7zM516 141h3v2h-3zM519 141h3v1h-3zM522 140h5v2h-5zM527 140h2v1h-2zM529 141h3v2h-3zM532 141h7v1h-7zM539 137h3v2h-3zM542 137h2v1h-2zM544 137h3v2h-3zM547 138h3v2h-3zM550 138h5v1h-5zM555 137h7v2h-7zM562 137h3v1h-3zM565 137h8v2h-8z"/>
<path fill="#df00ff" d="M25 149h2v3h-2zM27 149h5v4h-5zM32 150h5v3h-5zM37 151h3v3h-3zM40 150h2v3h-2zM42 149h3v4h-3zM45 150h5v3h-5zM50 149h2v4h-2zM52 149h3v3h-3zM55 149h2v4h-2zM57 150h3v3h-3zM60 149h10v3h-10zM70 150h5v3h-5zM75 150h2v4h-2zM77 151h3v3h-3zM80 150h2v3h-2zM82 149h3v4h-3zM85 150h2v3h-2zM87 149h3v4h-3zM90 150h2v3h-2zM92 149h3v3h-3zM95 149h5v4h-5zM100 149h5v3h-5zM105 149h2v4h-2zM107 150h5v3h-5zM112 151h3v3h-3zM115 150h2v4h-2zM117 150h3v3h-3zM120 149h5v4h-5zM125 150h2v3h-2zM127 149h3v4h-3zM130 144h5v3h-5zM135 144h5v2h-5zM140 143h2v4h-2zM142 144h5v3h-5zM147 145h5v2h-5zM152 145h3v3h-3zM155 145h2v2h-2zM157 144h3v4h-3zM160 145h7v3h-7zM167 145h3v2h-3zM170 145h2v3h-2zM172 143h3v3h-3zM175 144h10v3h-10zM185 145h2v2h-2zM187 144h5v3h-5zM192 145h3v2h-3zM195 145h2v3h-2zM197 145h3v2h-3zM200 145h2v3h-2zM202 146h3v2h-3zM205 145h2v3h-2zM207 144h5v3h-5zM212 144h3v2h-3zM215 144h2v3h-2zM217 145h3v3h-3zM220 144h2v3h-2zM222 144h3v4h-3zM225 144h5v3h-5zM230 145h5v3h-5zM235 145h2v4h-2zM237 146h3v3h-3zM240 145h2v4h-2zM242 145h3v3h-3zM245 144h2v3h-2zM247 144h3v2h-3zM250 145h2v2h-2zM252 144h8v3h-8zM260 145h5v3h-5zM265 144h5v3h-5zM270 145h2v2h-2zM272 145h5v3h-5zM277 146h3v3h-3zM280 145h2v3h-2zM282 144h3v3h-3zM285 144h2v4h-2zM287 144h8v3h-8zM295 145h2v3h-2zM297 144h3v4h-3zM300 144h5v3h-5zM305 145h12v3h-12zM317 145h3v2h-3zM320 145h2v3h-2zM322 145h3v2h-3zM325 145h2v3h-2zM327 144h3v3h-3zM330 145h2v2h-2zM332 144h5v3h-5zM337 144h3v4h-3zM340 144h2v3h-2zM342 143h3v2h-3zM345 142h2v3h-2zM347 143h3v2h-3zM350 138h5v2h-5zM355 137h2v3h-2zM357 138h3v2h-3zM360 137h2v2h-2zM362 137h3v3h-3zM365 137h5v2h-5zM370 136h3v2h-3zM373 135h2v3h-2zM375 135h3v2h-3zM378 138h2v3h-2zM380 138h5v4h-5zM385 139h5v3h-5zM390 138h2v3h-2zM392 139h1v1h-1zM393 139h1v3h-1zM394 139h1v1h-1zM395 139h3v3h-3zM398 139h1v1h-1zM399 139h5v3h-5zM404 138h3v3h-3zM407 142h5v3h-5zM412 141h9v4h-9zM421 142h10v4h-10zM431 141h3v4h-3zM434 142h5v3h-5zM439 143h2v3h-2zM441 142h3v3h-3zM444 141h5v3h-5zM449 141h2v4h-2zM451 140h3v4h-3zM454 141h2v3h-2zM456 141h5v4h-5zM461 141h3v3h-3zM464 142h5v3h-5zM469 141h2v4h-2zM471 142h3v5h-3zM474 143h2v4h-2zM476 143h8v5h-8zM484 142h2v5h-2zM486 141h3v5h-3zM489 142h2v5h-2zM491 141h3v6h-3zM494 142h2v5h-2zM496 143h3v4h-3zM499 141h2v6h-2zM501 142h3v5h-3zM504 142h2v4h-2zM506 142h3v5h-3zM509 143h7v5h-7zM516 143h3v4h-3zM519 142h8v5h-8zM527 141h2v5h-2zM529 143h3v4h-3zM532 142h7v5h-7zM539 139h3v3h-3zM542 138h2v4h-2zM544 139h3v4h-3zM547 140h3v3h-3zM550 139h10v4h-10zM560 139h2v3h-2zM562 138h3v4h-3zM565 139h8v3h-8z"/>
<path fill="#2000ff" d="M25 156h2v6h-2zM27 158h3v5h-3zM30 157h2v6h-2zM32 158h3v5h-3zM35 158h7v6h-7zM42 157h3v6h-3zM45 158h5v5h-5zM50 157h2v6h-2zM52 156h3v7h-3zM55 157h5v6h-5zM60 156h5v6h-5zM65 157h10v6h-10zM75 158h5v6h-5zM80 157h7v6h-7zM87 156h3v7h-3zM90 157h2v7h-2zM92 157h8v6h-8zM100 156h2v6h-2zM102 157h5v6h-5zM107 158h3v5h-3zM110 157h2v6h-2zM112 158h5v6h-5zM117 157h3v7h-3zM120 157h2v6h-2zM122 156h3v6h-3zM125 157h5v6h-5zM130 151h2v4h-2zM132 151h3v3h-3zM135 150h10v4h-10zM145 151h20v4h-20zM165 152h2v4h-2zM167 151h5v4h-5zM172 151h3v3h-3zM175 150h5v4h-5zM180 151h20v4h-20zM200 152h2v3h-2zM202 152h5v4h-5zM207 150h3v4h-3zM210 151h2v4h-2zM212 150h5v4h-5zM217 151h3v4h-3zM220 150h2v5h-2zM222 151h3v4h-3zM225 150h2v5h-2zM227 151h8v4h-8zM235 152h7v4h-7zM242 151h5v4h-5zM247 150h3v4h-3zM250 151h2v4h-2zM252 151h3v3h-3zM255 150h2v4h-2zM257 150h3v5h-3zM260 151h2v4h-2zM262 152h3v3h-3zM265 151h12v4h-12zM277 152h3v4h-3zM280 152h2v3h-2zM282 151h5v4h-5zM287 151h3v3h-3zM290 150h2v5h-2zM292 151h15v4h-15zM307 151h3v5h-3zM310 152h7v4h-7zM317 151h18v4h-18zM335 150h2v4h-2zM337 151h3v4h-3zM340 150h2v4h-2zM342 147h5v4h-5zM347 148h3v3h-3zM350 142h2v2h-2zM352 141h3v3h-3zM355 142h2v2h-2zM357 141h3v3h-3zM360 141h10v2h-10zM370 140h3v3h-3zM373 140h2v2h-2zM375 139h3v3h-3zM378 141h2v2h-2zM380 142h3v2h-3zM383 143h2v1h-2zM385 143h5v2h-5zM390 143h2v1h-2zM393 143h1v2h-1zM395 143h2v1h-2zM397 143h1v2h-1zM399 143h5v1h-5zM404 142h3v2h-3zM407 148h2v3h-2zM409 147h3v3h-3zM412 148h2v2h-2zM414 148h10v3h-10zM424 149h5v2h-5zM429 148h5v3h-5zM434 148h2v4h-2zM436 148h3v3h-3zM439 149h2v2h-2zM441 148h5v3h-5zM446 147h10v3h-10zM456 148h5v3h-5zM461 147h3v3h-3zM464 148h7v3h-7zM471 148h5v1h-5zM476 149h5v1h-5zM481 148h5v1h-5zM486 147h3v1h-3zM489 148h2v1h-2zM491 147h3v1h-3zM494 148h5v1h-5zM499 147h7v1h-7zM511 149h5v1h-5zM516 148h6v1h-6zM522 147h7v1h-7zM529 148h5v1h-5zM534 147h3v1h-3zM539 144h5v1h-5zM544 145h3v1h-3zM547 144h10v2h-10zM557 144h11v1h-11zM568 144h2v2h-2zM570 144h3v1h-3z"/>
<path fill="#009fff" d="M25 169h5v5h-5zM30 169h2v6h-2zM32 169h3v5h-3zM35 169h2v6h-2zM37 170h3v5h-3zM40 169h2v6h-2zM42 170h3v4h-3zM45 169h5v6h-5zM50 169h2v5h-2zM52 168h3v6h-3zM55 169h5v5h-5zM60 169h2v4h-2zM62 168h3v5h-3zM65 168h2v6h-2zM67 169h8v5h-8zM75 169h2v6h-2zM77 170h3v5h-3zM80 169h2v6h-2zM82 169h8v5h-8zM90 169h2v6h-2zM92 169h8v5h-8zM100 168h2v5h-2zM102 169h10v5h-10zM112 170h5v5h-5zM117 169h13v5h-13zM130 159h5v6h-5zM135 158h10v6h-10zM145 159h2v5h-2zM147 159h15v6h-15zM162 160h5v5h-5zM167 159h5v6h-5zM172 159h3v5h-3zM175 158h5v6h-5zM180 159h5v5h-5zM185 160h2v5h-2zM187 159h3v6h-3zM190 159h2v5h-2zM192 160h3v4h-3zM195 160h2v5h-2zM197 159h3v6h-3zM200 160h5v5h-5zM205 159h5v6h-5zM210 159h2v5h-2zM212 158h3v6h-3zM215 158h2v5h-2zM217 159h5v5h-5zM222 159h3v6h-3zM225 159h5v5h-5zM230 159h5v6h-5zM235 160h7v6h-7zM242 159h5v6h-5zM247 159h13v5h-13zM260 159h2v6h-2zM262 160h3v4h-3zM265 159h5v6h-5zM270 160h7v5h-7zM277 160h3v6h-3zM280 160h2v5h-2zM282 159h3v5h-3zM285 159h2v6h-2zM287 158h3v6h-3zM290 159h5v5h-5zM295 159h2v6h-2zM297 159h10v5h-10zM307 160h8v5h-8zM315 159h2v6h-2zM317 160h5v5h-5zM322 159h3v6h-3zM325 159h17v5h-17zM342 155h5v4h-5zM347 155h3v5h-3zM350 146h2v3h-2zM352 146h8v2h-8zM360 145h2v3h-2zM362 145h3v2h-3zM365 145h5v3h-5zM370 145h3v2h-3zM373 144h5v2h-5zM378 145h2v2h-2zM380 145h3v3h-3zM383 145h2v2h-2zM385 146h2v3h-2zM387 146h5v2h-5zM393 146h1v2h-1zM395 146h3v2h-3zM399 146h5v2h-5zM404 146h3v1h-3zM407 155h2v3h-2zM409 154h5v4h-5zM414 154h3v3h-3zM417 155h2v3h-2zM419 154h2v3h-2zM421 155h10v3h-10zM431 154h3v4h-3zM434 155h5v3h-5zM439 155h2v4h-2zM441 154h3v4h-3zM444 154h2v3h-2zM446 153h3v4h-3zM449 154h2v3h-2zM451 153h3v4h-3zM454 154h2v3h-2zM456 154h5v4h-5zM461 154h3v3h-3zM464 154h7v4h-7zM471 150h3v1h-3zM474 150h2v2h-2zM476 151h3v1h-3zM479 150h2v2h-2zM481 150h5v1h-5zM486 149h3v1h-3zM489 150h2v1h-2zM491 149h3v1h-3zM494 150h5v1h-5zM499 149h2v2h-2zM501 149h5v1h-5zM506 149h3v2h-3zM509 151h2v1h-2zM511 150h5v2h-5zM516 150h6v1h-6zM522 149h2v1h-2zM524 149h3v2h-3zM527 149h2v1h-2zM529 150h5v1h-5zM534 149h3v1h-3zM537 149h2v2h-2zM539 146h3v2h-3zM542 147h2v1h-2zM544 147h3v2h-3zM550 147h7v2h-7zM557 147h3v1h-3zM560 146h5v2h-5zM565 147h5v1h-5zM570 146h3v2h-3z"/>
<path fill="#00ffff" d="M25 174h5v7h-5zM30 175h2v6h-2zM32 174h3v7h-3zM35 175h7v7h-7zM42 174h3v8h-3zM45 175h2v7h-2zM47 175h3v6h-3zM50 174h10v7h-10zM60 173h5v7h-5zM65 174h7v7h-7zM72 174h3v8h-3zM75 175h5v7h-5zM80 175h2v6h-2zM82 174h8v7h-8zM90 175h2v6h-2zM92 174h3v6h-3zM95 174h5v7h-5zM100 173h2v7h-2zM102 174h3v6h-3zM105 174h7v7h-7zM112 175h5v7h-5zM117 174h3v8h-3zM120 174h10v7h-10zM130 165h5v6h-5zM135 164h2v7h-2zM137 164h3v6h-3zM140 164h7v7h-7zM147 165h3v7h-3zM150 165h5v6h-5zM155 165h5v7h-5zM160 165h2v6h-2zM162 165h5v7h-5zM167 165h3v6h-3zM170 165h2v7h-2zM172 164h8v6h-8zM180 164h5v7h-5zM185 165h5v6h-5zM190 164h5v7h-5zM195 165h5v6h-5zM200 165h7v7h-7zM207 165h3v5h-3zM210 164h2v7h-2zM212 164h3v6h-3zM215 163h2v7h-2zM217 164h3v7h-3zM220 164h2v6h-2zM222 165h3v6h-3zM225 164h5v6h-5zM230 165h5v6h-5zM235 166h7v6h-7zM242 165h5v6h-5zM247 164h3v6h-3zM250 164h2v7h-2zM252 164h8v6h-8zM260 165h2v5h-2zM262 164h3v7h-3zM265 165h2v6h-2zM267 165h3v5h-3zM270 165h7v6h-7zM277 166h3v5h-3zM280 165h2v6h-2zM282 164h3v6h-3zM285 165h2v5h-2zM287 164h8v6h-8zM295 165h2v6h-2zM297 164h10v6h-10zM307 165h3v6h-3zM310 165h2v5h-2zM312 165h5v6h-5zM317 165h3v5h-3zM320 165h2v6h-2zM322 165h3v5h-3zM325 164h15v6h-15zM340 164h2v5h-2zM342 159h5v7h-5zM347 160h3v7h-3zM350 149h2v2h-2zM352 148h8v3h-8zM360 148h2v2h-2zM362 147h3v4h-3zM365 148h5v3h-5zM370 147h3v3h-3zM373 146h5v3h-5zM378 147h2v2h-2zM380 148h3v2h-3zM383 147h2v3h-2zM385 149h2v1h-2zM387 148h3v3h-3zM390 148h2v2h-2zM393 148h1v2h-1zM395 148h2v3h-2zM397 148h7v2h-7zM404 147h3v3h-3zM407 158h7v5h-7zM414 157h3v6h-3zM417 158h2v5h-2zM419 157h2v6h-2zM421 158h13v5h-13zM434 158h5v6h-5zM439 159h2v5h-2zM441 158h3v6h-3zM444 157h7v6h-7zM451 157h3v5h-3zM454 157h2v6h-2zM456 158h5v5h-5zM461 157h3v6h-3zM464 158h5v6h-5zM469 158h2v5h-2zM501 150h5v1h-5zM539 148h5v1h-5zM544 149h3v1h-3zM547 148h3v2h-3zM550 149h7v1h-7zM557 148h8v1h-8zM565 148h3v2h-3zM568 148h5v1h-5z"/>
<path fill="#00ff9f" d="M25 181h10v6h-10zM35 182h7v6h-7zM42 182h3v5h-3zM45 182h2v6h-2zM47 181h13v6h-13zM60 180h5v6h-5zM65 181h7v6h-7zM72 182h5v5h-5zM77 182h3v6h-3zM80 181h7v6h-7zM87 181h3v5h-3zM90 181h2v6h-2zM92 180h3v7h-3zM95 181h5v6h-5zM100 180h5v6h-5zM105 181h7v6h-7zM112 182h8v6h-8zM120 181h10v6h-10zM130 171h5v6h-5zM135 171h2v5h-2zM137 170h3v6h-3zM140 171h7v5h-7zM147 172h3v5h-3zM150 171h5v6h-5zM155 172h5v5h-5zM160 171h2v6h-2zM162 172h5v5h-5zM167 171h3v6h-3zM170 172h2v5h-2zM172 170h8v6h-8zM180 171h7v6h-7zM187 171h5v5h-5zM192 171h8v6h-8zM200 172h7v5h-7zM207 170h3v6h-3zM210 171h2v5h-2zM212 170h5v6h-5zM217 171h3v5h-3zM220 170h2v6h-2zM222 171h3v5h-3zM225 170h5v6h-5zM230 171h2v6h-2zM232 171h3v5h-3zM235 172h7v5h-7zM242 171h5v5h-5zM247 170h3v6h-3zM250 171h2v5h-2zM252 170h3v6h-3zM255 170h5v5h-5zM260 170h2v6h-2zM262 171h3v6h-3zM265 171h2v5h-2zM267 170h3v6h-3zM270 171h2v5h-2zM272 171h3v6h-3zM275 171h2v5h-2zM277 171h3v6h-3zM280 171h2v5h-2zM282 170h5v6h-5zM287 170h3v5h-3zM290 170h5v6h-5zM295 171h2v5h-2zM297 170h3v6h-3zM300 170h5v5h-5zM305 170h2v6h-2zM307 171h3v5h-3zM310 170h2v6h-2zM312 171h3v6h-3zM315 171h2v5h-2zM317 170h3v6h-3zM320 171h2v5h-2zM322 170h3v5h-3zM325 170h2v6h-2zM327 170h3v5h-3zM330 170h2v6h-2zM332 170h3v5h-3zM335 170h2v4h-2zM337 170h3v5h-3zM340 169h2v6h-2zM342 166h5v5h-5zM347 167h3v5h-3zM350 151h7v10h-7zM357 151h3v9h-3zM360 150h2v9h-2zM362 151h8v8h-8zM370 150h3v8h-3zM373 149h5v8h-5zM378 149h2v11h-2zM380 150h3v11h-3zM383 150h2v10h-2zM385 150h2v11h-2zM387 151h3v10h-3zM390 150h2v11h-2zM392 152h1v9h-1zM393 150h1v11h-1zM394 151h3v10h-3zM397 150h10v11h-10zM407 163h2v6h-2zM409 163h8v5h-8zM417 163h2v6h-2zM419 163h2v5h-2zM421 163h13v6h-13zM434 164h5v5h-5zM439 164h2v6h-2zM441 164h3v5h-3zM444 163h7v5h-7zM451 162h3v6h-3zM454 163h7v6h-7zM461 163h3v5h-3zM464 164h2v4h-2zM466 164h3v5h-3zM469 163h2v6h-2zM471 151h3v10h-3zM474 152h2v9h-2zM476 152h5v10h-5zM481 151h3v10h-3zM484 151h2v9h-2zM486 150h3v10h-3zM489 151h2v9h-2zM491 150h3v10h-3zM494 151h2v9h-2zM496 151h3v10h-3zM499 151h10v9h-10zM509 152h2v10h-2zM511 152h3v9h-3zM514 152h2v10h-2zM516 151h6v10h-6zM522 150h2v10h-2zM524 151h3v9h-3zM527 150h2v10h-2zM529 151h3v9h-3zM532 151h2v10h-2zM534 150h3v10h-3zM537 151h2v9h-2zM539 149h5v6h-5zM544 150h3v7h-3zM547 150h5v6h-5zM552 150h3v7h-3zM555 150h2v6h-2zM557 149h8v7h-8zM565 150h3v5h-3zM568 149h5v7h-5z"/>
<path fill="#00ff40" d="M25 187h5v5h-5zM30 187h2v6h-2zM32 187h3v5h-3zM35 188h2v5h-2zM37 188h3v6h-3zM40 188h2v5h-2zM42 187h3v6h-3zM45 188h2v5h-2zM47 187h3v6h-3zM50 187h2v5h-2zM52 187h3v4h-3zM55 187h5v5h-5zM60 186h2v5h-2zM62 186h3v6h-3zM65 187h10v5h-10zM75 187h2v6h-2zM77 188h3v5h-3zM80 187h2v6h-2zM82 187h5v5h-5zM87 186h3v6h-3zM90 187h2v6h-2zM92 187h8v5h-8zM100 186h5v6h-5zM105 187h2v5h-2zM107 187h5v6h-5zM112 188h8v5h-8zM120 187h7v5h-7zM127 187h3v6h-3zM130 177h5v5h-5zM135 176h2v6h-2zM137 176h5v5h-5zM142 176h5v6h-5zM147 177h3v5h-3zM150 177h2v6h-2zM152 177h8v5h-8zM160 177h10v6h-10zM170 177h2v5h-2zM172 176h8v5h-8zM180 177h7v5h-7zM187 176h5v6h-5zM192 177h3v5h-3zM195 177h12v6h-12zM207 176h5v6h-5zM212 176h5v5h-5zM217 176h3v6h-3zM220 176h2v5h-2zM222 176h5v6h-5zM227 176h3v5h-3zM230 177h2v5h-2zM232 176h3v6h-3zM235 177h7v6h-7zM242 176h3v6h-3zM245 176h5v5h-5zM250 176h2v6h-2zM252 176h3v5h-3zM255 175h2v7h-2zM257 175h3v6h-3zM260 176h2v6h-2zM262 177h3v5h-3zM265 176h7v6h-7zM272 177h3v6h-3zM275 176h2v6h-2zM277 177h3v6h-3zM280 176h7v6h-7zM287 175h3v6h-3zM290 176h2v5h-2zM292 176h5v6h-5zM297 176h3v5h-3zM300 175h2v7h-2zM302 175h3v6h-3zM305 176h7v6h-7zM312 177h3v5h-3zM315 176h7v6h-7zM322 175h3v6h-3zM325 176h2v6h-2zM327 175h3v6h-3zM330 176h2v6h-2zM332 175h3v6h-3zM335 174h2v6h-2zM337 175h3v7h-3zM340 175h2v6h-2zM342 171h5v5h-5zM347 172h3v4h-3zM350 161h7v5h-7zM357 160h3v6h-3zM360 159h10v6h-10zM370 158h3v7h-3zM373 157h2v7h-2zM375 157h3v6h-3zM378 160h2v11h-2zM380 161h3v11h-3zM383 160h2v12h-2zM385 161h5v11h-5zM390 161h2v10h-2zM392 161h5v11h-5zM397 161h2v12h-2zM399 161h5v11h-5zM404 161h3v10h-3zM407 169h2v7h-2zM409 168h8v7h-8zM417 169h2v6h-2zM419 168h2v7h-2zM421 169h8v7h-8zM429 169h5v6h-5zM434 169h5v7h-5zM439 170h2v6h-2zM441 169h3v7h-3zM444 168h7v7h-7zM451 168h3v6h-3zM454 169h5v6h-5zM459 169h2v7h-2zM461 168h5v7h-5zM466 169h3v7h-3zM469 169h2v6h-2zM471 161h3v8h-3zM474 161h2v9h-2zM476 162h5v8h-5zM481 161h3v8h-3zM484 160h2v9h-2zM486 160h3v8h-3zM489 160h5v9h-5zM494 160h2v10h-2zM496 161h3v8h-3zM499 160h2v9h-2zM501 160h5v8h-5zM506 160h3v9h-3zM509 162h2v8h-2zM511 161h3v9h-3zM514 162h2v8h-2zM516 161h3v9h-3zM519 161h3v8h-3zM522 160h7v8h-7zM529 160h3v9h-3zM532 161h2v9h-2zM534 160h5v9h-5zM539 155h5v11h-5zM544 157h3v9h-3zM547 156h5v10h-5zM552 157h3v10h-3zM555 156h5v10h-5zM560 156h5v9h-5zM565 155h3v11h-3zM568 156h5v10h-5z"/>
<path fill="#20ff00" d="M25 192h5v7h-5zM30 193h2v6h-2zM32 192h3v8h-3zM35 193h2v7h-2zM37 194h3v6h-3zM40 193h2v7h-2zM42 193h8v6h-8zM50 192h2v7h-2zM52 191h3v7h-3zM55 192h2v6h-2zM57 192h3v7h-3zM60 191h2v7h-2zM62 192h8v6h-8zM70 192h2v7h-2zM72 192h3v8h-3zM75 193h2v6h-2zM77 193h3v7h-3zM80 193h2v6h-2zM82 192h5v7h-5zM87 192h3v6h-3zM90 193h2v6h-2zM92 192h8v7h-8zM100 192h5v6h-5zM105 192h2v7h-2zM107 193h13v7h-13zM120 192h2v6h-2zM122 192h5v7h-5zM127 193h3v6h-3zM130 182h2v8h-2zM132 182h5v7h-5zM137 181h5v7h-5zM142 182h3v6h-3zM145 182h5v7h-5zM150 183h2v7h-2zM152 182h8v7h-8zM160 183h2v6h-2zM162 183h5v7h-5zM167 183h3v6h-3zM170 182h2v8h-2zM172 181h3v8h-3zM175 181h5v7h-5zM180 182h15v7h-15zM195 183h2v7h-2zM197 183h5v6h-5zM202 183h3v7h-3zM205 183h2v6h-2zM207 182h5v7h-5zM212 181h5v7h-5zM217 182h3v7h-3zM220 181h2v7h-2zM222 182h5v7h-5zM227 181h3v8h-3zM230 182h5v7h-5zM235 183h7v7h-7zM242 182h3v7h-3zM245 181h5v7h-5zM250 182h2v7h-2zM252 181h3v8h-3zM255 182h2v6h-2zM257 181h3v7h-3zM260 182h7v7h-7zM267 182h3v6h-3zM270 182h2v7h-2zM272 183h3v6h-3zM275 182h2v7h-2zM277 183h3v7h-3zM280 182h7v7h-7zM287 181h5v7h-5zM292 182h3v6h-3zM295 182h2v7h-2zM297 181h3v8h-3zM300 182h2v6h-2zM302 181h3v7h-3zM305 182h7v7h-7zM312 182h3v8h-3zM315 182h2v7h-2zM317 182h5v6h-5zM322 181h3v8h-3zM325 182h2v6h-2zM327 181h3v8h-3zM330 182h2v7h-2zM332 181h3v7h-3zM335 180h2v8h-2zM337 182h3v6h-3zM340 181h2v6h-2zM342 176h5v4h-5zM347 176h3v5h-3zM350 166h2v12h-2zM352 166h8v11h-8zM360 165h2v10h-2zM362 165h8v11h-8zM370 165h3v10h-3zM373 164h2v10h-2zM375 163h3v11h-3zM378 171h2v7h-2zM380 172h3v6h-3zM383 172h7v7h-7zM390 171h2v7h-2zM392 172h5v7h-5zM397 173h2v6h-2zM399 172h5v7h-5zM404 171h3v7h-3zM407 176h2v4h-2zM409 175h12v4h-12zM421 176h8v4h-8zM429 175h2v5h-2zM431 175h3v4h-3zM434 176h5v4h-5zM439 176h2v5h-2zM441 176h3v4h-3zM444 175h7v4h-7zM451 174h3v5h-3zM454 175h2v4h-2zM456 175h3v5h-3zM459 176h2v4h-2zM461 175h3v4h-3zM464 175h2v5h-2zM466 176h3v4h-3zM469 175h2v5h-2zM471 169h3v8h-3zM474 170h2v7h-2zM476 170h3v8h-3zM479 170h2v7h-2zM481 169h3v8h-3zM484 169h2v7h-2zM486 168h3v8h-3zM489 169h2v8h-2zM491 169h3v7h-3zM494 170h2v7h-2zM496 169h3v8h-3zM499 169h2v7h-2zM501 168h5v8h-5zM506 169h3v8h-3zM509 170h2v8h-2zM511 170h3v7h-3zM514 170h2v8h-2zM516 170h3v7h-3zM519 169h3v8h-3zM522 168h7v8h-7zM529 169h3v7h-3zM532 170h2v7h-2zM534 169h5v7h-5zM539 166h5v5h-5zM544 166h8v6h-8zM552 167h3v4h-3zM555 166h5v5h-5zM560 165h5v6h-5zM565 166h8v5h-8z"/>
<path fill="#80ff00" d="M25 199h2v5h-2zM27 199h5v6h-5zM32 200h8v6h-8zM40 200h2v5h-2zM42 199h10v6h-10zM52 198h3v6h-3zM55 198h2v7h-2zM57 199h3v6h-3zM60 198h7v6h-7zM67 198h3v7h-3zM70 199h2v6h-2zM72 200h3v5h-3zM75 199h2v7h-2zM77 200h3v6h-3zM80 199h2v7h-2zM82 199h3v5h-3zM85 199h2v6h-2zM87 198h3v7h-3zM90 199h10v6h-10zM100 198h5v6h-5zM105 199h2v6h-2zM107 200h3v5h-3zM110 200h10v6h-10zM120 198h2v7h-2zM122 199h3v5h-3zM125 199h5v6h-5zM130 190h2v6h-2zM132 189h3v4h-3zM135 189h2v5h-2zM137 188h5v6h-5zM142 188h3v7h-3zM145 189h5v4h-5zM150 190h2v5h-2zM152 189h5v4h-5zM157 189h5v6h-5zM162 190h3v4h-3zM165 190h2v5h-2zM167 189h3v5h-3zM170 190h2v5h-2zM172 189h3v7h-3zM175 188h2v7h-2zM177 188h3v5h-3zM180 189h5v6h-5zM185 189h2v5h-2zM187 189h3v4h-3zM190 189h2v6h-2zM192 189h3v7h-3zM195 190h2v5h-2zM197 189h3v5h-3zM200 189h2v4h-2zM202 190h3v7h-3zM205 189h2v6h-2zM207 189h3v7h-3zM210 189h2v4h-2zM212 188h3v6h-3zM215 188h2v7h-2zM217 189h3v5h-3zM220 188h2v6h-2zM222 189h3v7h-3zM225 189h2v5h-2zM227 189h3v8h-3zM230 189h2v5h-2zM232 189h3v7h-3zM235 190h2v7h-2zM237 190h3v5h-3zM240 190h2v6h-2zM242 189h3v5h-3zM245 188h2v6h-2zM247 188h3v5h-3zM250 189h2v7h-2zM252 189h3v5h-3zM255 188h2v8h-2zM257 188h3v6h-3zM260 189h7v6h-7zM267 188h3v8h-3zM270 189h2v6h-2zM272 189h3v8h-3zM275 189h2v7h-2zM277 190h3v6h-3zM280 189h2v6h-2zM282 189h5v8h-5zM287 188h3v8h-3zM290 188h2v7h-2zM292 188h3v8h-3zM295 189h2v8h-2zM297 189h3v5h-3zM300 188h2v8h-2zM302 188h3v7h-3zM305 189h2v8h-2zM307 189h3v6h-3zM310 189h2v7h-2zM312 190h3v6h-3zM315 189h2v7h-2zM317 188h3v10h-3zM320 188h2v8h-2zM322 189h3v9h-3zM325 188h2v8h-2zM327 189h3v8h-3zM330 189h2v9h-2zM332 188h5v7h-5zM337 188h3v8h-3zM340 187h2v8h-2zM342 180h5v9h-5zM347 181h3v9h-3zM350 178h2v7h-2zM352 177h8v7h-8zM360 175h2v8h-2zM362 176h6v7h-6zM368 176h2v8h-2zM370 175h3v8h-3zM373 174h5v8h-5zM378 178h5v6h-5zM383 179h7v5h-7zM390 178h2v6h-2zM392 179h5v5h-5zM397 179h7v6h-7zM404 178h3v6h-3zM407 180h2v8h-2zM409 179h3v8h-3zM412 179h7v9h-7zM419 179h2v8h-2zM421 180h10v8h-10zM431 179h3v8h-3zM434 180h5v8h-5zM439 181h2v7h-2zM441 180h3v8h-3zM444 179h2v9h-2zM446 179h10v8h-10zM456 180h3v8h-3zM459 180h2v7h-2zM461 179h3v8h-3zM464 180h7v8h-7zM471 177h3v8h-3zM474 177h2v9h-2zM476 178h3v9h-3zM479 177h5v9h-5zM484 176h2v10h-2zM486 176h3v8h-3zM489 177h2v8h-2zM491 176h3v9h-3zM494 177h2v9h-2zM496 177h3v8h-3zM499 176h7v9h-7zM506 177h3v8h-3zM509 178h2v8h-2zM511 177h3v9h-3zM514 178h2v8h-2zM516 177h3v9h-3zM519 177h3v8h-3zM522 176h2v8h-2zM524 176h8v9h-8zM532 177h2v8h-2zM534 176h5v9h-5zM539 171h5v13h-5zM544 172h6v12h-6zM550 172h2v13h-2zM552 171h3v13h-3zM555 171h2v14h-2zM557 171h16v13h-16z"/>
<path fill="#dfff00" d="M25 204h2v11h-2zM27 205h5v11h-5zM32 206h8v10h-8zM40 205h7v11h-7zM47 205h5v10h-5zM52 204h3v11h-3zM55 205h2v10h-2zM57 205h3v11h-3zM60 204h7v11h-7zM67 205h5v10h-5zM72 205h3v11h-3zM75 206h2v10h-2zM77 206h3v11h-3zM80 206h2v10h-2zM82 204h3v11h-3zM85 205h2v11h-2zM87 205h3v10h-3zM90 205h5v11h-5zM95 205h2v10h-2zM97 205h3v11h-3zM100 204h5v11h-5zM105 205h2v10h-2zM107 205h3v11h-3zM110 206h2v10h-2zM112 206h5v11h-5zM117 206h3v10h-3zM120 205h2v11h-2zM122 204h3v11h-3zM125 205h5v11h-5zM130 196h2v11h-2zM132 193h3v12h-3zM135 194h2v9h-2zM137 194h5v12h-5zM142 195h3v12h-3zM145 193h2v13h-2zM147 193h3v15h-3zM150 195h2v11h-2zM152 193h5v15h-5zM157 195h5v11h-5zM162 194h3v12h-3zM165 195h2v11h-2zM167 194h3v14h-3zM170 195h2v11h-2zM172 196h3v11h-3zM175 195h2v11h-2zM177 193h3v13h-3zM180 195h5v12h-5zM185 194h2v15h-2zM187 193h3v13h-3zM190 195h2v10h-2zM192 196h3v10h-3zM195 195h2v11h-2zM197 194h3v13h-3zM200 193h2v16h-2zM202 197h3v12h-3zM205 195h2v13h-2zM207 196h3v11h-3zM210 193h2v14h-2zM212 194h3v10h-3zM215 195h2v13h-2zM217 194h3v12h-3zM220 194h2v13h-2zM222 196h3v12h-3zM225 194h2v12h-2zM227 197h3v9h-3zM230 194h2v13h-2zM232 196h3v13h-3zM235 197h2v13h-2zM237 195h3v14h-3zM240 196h2v13h-2zM242 194h3v13h-3zM245 194h2v14h-2zM247 193h3v12h-3zM250 196h2v11h-2zM252 194h3v12h-3zM255 196h2v11h-2zM257 194h3v15h-3zM260 195h2v14h-2zM262 195h3v13h-3zM265 195h2v14h-2zM267 196h3v13h-3zM270 195h2v14h-2zM272 197h3v10h-3zM275 196h2v11h-2zM277 196h3v14h-3zM280 195h2v12h-2zM282 197h3v11h-3zM285 197h2v10h-2zM287 196h3v11h-3zM290 195h2v12h-2zM292 196h3v14h-3zM295 197h2v12h-2zM297 194h3v13h-3zM300 196h2v12h-2zM302 195h3v11h-3zM305 197h2v10h-2zM307 195h3v15h-3zM310 196h2v14h-2zM312 196h3v15h-3zM315 196h2v13h-2zM317 198h3v11h-3zM320 196h2v14h-2zM322 198h3v9h-3zM325 196h2v12h-2zM327 197h3v13h-3zM330 198h2v10h-2zM332 195h3v15h-3zM335 195h2v14h-2zM337 196h3v14h-3zM340 195h2v13h-2zM342 189h3v15h-3zM345 189h2v14h-2zM347 190h3v14h-3zM350 185h2v13h-2zM352 184h3v13h-3zM355 184h5v14h-5zM360 183h2v14h-2zM362 183h6v13h-6zM368 184h2v12h-2zM370 183h3v13h-3zM373 182h2v13h-2zM375 182h3v12h-3zM378 184h2v23h-2zM380 184h3v24h-3zM383 184h14v23h-14zM397 185h5v21h-5zM402 185h2v20h-2zM404 184h3v20h-3zM407 188h2v11h-2zM409 187h3v12h-3zM412 188h2v10h-2zM414 188h5v11h-5zM419 187h2v12h-2zM421 188h10v12h-10zM431 187h3v12h-3zM434 188h12v12h-12zM446 187h3v12h-3zM449 187h7v13h-7zM456 188h3v13h-3zM459 187h2v14h-2zM461 187h3v13h-3zM464 188h7v13h-7zM471 185h3v21h-3zM474 186h2v21h-2zM476 187h3v20h-3zM479 186h7v20h-7zM486 184h3v21h-3zM489 185h2v21h-2zM491 185h3v20h-3zM494 186h2v20h-2zM496 185h3v21h-3zM499 185h7v20h-7zM506 185h3v21h-3zM509 186h2v20h-2zM511 186h5v21h-5zM516 186h3v20h-3zM519 185h3v21h-3zM522 184h2v21h-2zM524 185h5v20h-5zM529 185h5v21h-5zM534 185h5v20h-5zM539 184h5v19h-5zM544 184h6v20h-6zM550 185h2v19h-2zM552 184h3v20h-3zM555 185h2v19h-2zM557 184h3v20h-3zM560 184h5v19h-5zM565 184h5v20h-5zM570 184h3v19h-3z"/>
<path fill="#ff6000" d="M25 229h2v13h-2zM27 230h3v13h-3zM30 229h2v14h-2zM32 230h5v13h-5zM37 229h18v14h-18zM55 229h2v13h-2zM57 229h3v14h-3zM60 229h2v13h-2zM62 228h3v15h-3zM65 229h12v14h-12zM77 230h3v13h-3zM80 229h2v14h-2zM82 229h3v13h-3zM85 229h7v14h-7zM92 229h5v13h-5zM97 229h3v14h-3zM100 229h5v13h-5zM105 229h5v14h-5zM110 230h2v12h-2zM112 230h8v13h-8zM120 229h2v14h-2zM122 229h8v13h-8zM130 217h2v25h-2zM132 211h3v30h-3zM135 212h2v29h-2zM137 216h3v25h-3zM140 218h2v23h-2zM142 217h3v24h-3zM145 215h2v26h-2zM147 214h5v27h-5zM152 217h10v24h-10zM162 219h3v22h-3zM165 217h2v25h-2zM167 216h3v25h-3zM170 219h2v22h-2zM172 215h3v26h-3zM175 218h5v22h-5zM180 216h2v25h-2zM182 216h5v24h-5zM187 217h3v23h-3zM190 219h2v21h-2zM192 215h3v25h-3zM195 219h2v22h-2zM197 218h5v23h-5zM202 217h3v24h-3zM205 218h5v22h-5zM210 219h2v21h-2zM212 216h3v23h-3zM215 213h2v27h-2zM217 219h3v21h-3zM220 218h2v22h-2zM222 220h3v20h-3zM225 218h2v22h-2zM227 217h3v23h-3zM230 219h2v21h-2zM232 218h3v22h-3zM235 217h2v24h-2zM237 219h3v21h-3zM240 218h2v22h-2zM242 219h3v21h-3zM245 218h2v22h-2zM247 217h3v22h-3zM250 219h2v21h-2zM252 217h5v22h-5zM257 220h3v19h-3zM260 219h2v20h-2zM262 220h3v19h-3zM265 219h2v20h-2zM267 217h3v22h-3zM270 220h2v19h-2zM272 215h3v25h-3zM275 219h5v21h-5zM280 220h2v20h-2zM282 219h3v20h-3zM285 218h2v21h-2zM287 219h3v20h-3zM290 220h2v19h-2zM292 218h3v21h-3zM295 220h2v19h-2zM297 218h3v21h-3zM300 221h2v17h-2zM302 221h3v18h-3zM305 218h2v21h-2zM307 215h3v24h-3zM310 219h2v20h-2zM312 220h3v19h-3zM315 221h5v18h-5zM320 220h2v19h-2zM322 217h3v21h-3zM325 219h2v20h-2zM327 219h3v19h-3zM330 222h2v16h-2zM332 220h3v18h-3zM335 218h2v20h-2zM337 219h3v19h-3zM340 220h2v18h-2zM342 213h5v29h-5zM347 214h3v28h-3zM350 228h7v12h-7zM357 227h3v13h-3zM360 227h10v12h-10zM370 227h3v11h-3zM373 226h5v11h-5zM378 231h2v1h-2zM385 230h5v1h-5zM390 229h1v2h-1zM391 219h1v12h-1zM392 219h1v11h-1zM393 228h2v2h-2zM395 228h1v3h-1zM396 218h2v13h-2zM398 228h1v3h-1zM399 227h2v3h-2zM401 214h2v16h-2zM403 227h1v3h-1zM404 226h3v4h-3zM407 230h2v10h-2zM409 229h8v11h-8zM417 230h2v10h-2zM419 229h2v11h-2zM421 230h10v10h-10zM431 229h3v11h-3zM434 230h2v10h-2zM436 230h3v11h-3zM439 230h7v10h-7zM446 229h3v11h-3zM449 230h2v10h-2zM451 229h3v10h-3zM454 230h7v10h-7zM461 229h3v11h-3zM464 230h7v10h-7zM471 213h5v15h-5zM476 214h3v14h-3zM479 213h7v15h-7zM486 212h3v15h-3zM489 213h20v14h-20zM509 214h7v13h-7zM516 213h18v13h-18zM534 213h3v12h-3zM537 213h2v13h-2zM539 215h3v9h-3zM542 214h2v10h-2zM544 215h8v9h-8zM552 214h3v10h-3zM555 215h2v9h-2zM557 215h3v8h-3zM560 214h13v9h-13z"/>
</g>
<line x1="22.5" y1="3.0" x2="22.5" y2="117.5" stroke="#333" stroke-width="0.9"/>
<line x1="21.3" y1="3.0" x2="22.5" y2="3.0" stroke="#333" stroke-width="0.8"/>
<text transform="translate(20.2,3.0) rotate(-90)" text-anchor="middle" font-size="3.8" fill="#111" stroke="#111" stroke-width="0.25">1.0</text>
<line x1="21.3" y1="29.0" x2="22.5" y2="29.0" stroke="#333" stroke-width="0.8"/>
<text transform="translate(20.2,29.0) rotate(-90)" text-anchor="middle" font-size="3.8" fill="#111" stroke="#111" stroke-width="0.25">0.8</text>
<line x1="21.3" y1="55.0" x2="22.5" y2="55.0" stroke="#333" stroke-width="0.8"/>
<text transform="translate(20.2,55.0) rotate(-90)" text-anchor="middle" font-size="3.8" fill="#111" stroke="#111" stroke-width="0.25">0.6</text>
<line x1="21.3" y1="81.0" x2="22.5" y2="81.0" stroke="#333" stroke-width="0.8"/>
<text transform="translate(20.2,81.0) rotate(-90)" text-anchor="middle" font-size="3.8" fill="#111" stroke="#111" stroke-width="0.25">0.4</text>
<line x1="21.3" y1="107.0" x2="22.5" y2="107.0" stroke="#333" stroke-width="0.8"/>
<text transform="translate(20.2,107.0) rotate(-90)" text-anchor="middle" font-size="3.8" fill="#111" stroke="#111" stroke-width="0.25">0.2</text>
<line x1="22.9" y1="127.1" x2="22.9" y2="258.4" stroke="#808080" stroke-width="0.9"/>
<line x1="21.3" y1="127.1" x2="22.5" y2="127.1" stroke="#333" stroke-width="0.8"/>
<text transform="translate(20.2,127.1) rotate(-90)" text-anchor="middle" font-size="3.8" fill="#111" stroke="#111" stroke-width="0.25">1.0</text>
<line x1="21.3" y1="153.4" x2="22.5" y2="153.4" stroke="#333" stroke-width="0.8"/>
<text transform="translate(20.2,153.4) rotate(-90)" text-anchor="middle" font-size="3.8" fill="#111" stroke="#111" stroke-width="0.25">0.8</text>
<line x1="21.3" y1="179.6" x2="22.5" y2="179.6" stroke="#333" stroke-width="0.8"/>
<text transform="translate(20.2,179.6) rotate(-90)" text-anchor="middle" font-size="3.8" fill="#111" stroke="#111" stroke-width="0.25">0.6</text>
<line x1="21.3" y1="205.9" x2="22.5" y2="205.9" stroke="#333" stroke-width="0.8"/>
<text transform="translate(20.2,205.9) rotate(-90)" text-anchor="middle" font-size="3.8" fill="#111" stroke="#111" stroke-width="0.25">0.4</text>
<line x1="21.3" y1="232.1" x2="22.5" y2="232.1" stroke="#333" stroke-width="0.8"/>
<text transform="translate(20.2,232.1) rotate(-90)" text-anchor="middle" font-size="3.8" fill="#111" stroke="#111" stroke-width="0.25">0.2</text>
<line x1="21.3" y1="258.4" x2="22.5" y2="258.4" stroke="#333" stroke-width="0.8"/>
<text transform="translate(20.2,258.4) rotate(-90)" text-anchor="middle" font-size="3.8" fill="#111" stroke="#111" stroke-width="0.25">0.0</text>
<rect x="591" y="0.20" width="3.4" height="3" fill="#ff0050" stroke="#333" stroke-width="0.5"/>
<text x="598.4" y="3.60" font-size="4.7" fill="#000" stroke="#000" stroke-width="0.12">Other</text>
<rect x="591" y="5.86" width="3.4" height="3" fill="#ff00b0" stroke="#333" stroke-width="0.5"/>
<text x="598.4" y="9.26" font-size="4.7" fill="#000" stroke="#000" stroke-width="0.12">Planctomycetia</text>
<rect x="591" y="11.52" width="3.4" height="3" fill="#e800ff" stroke="#333" stroke-width="0.5"/>
<text x="598.4" y="14.92" font-size="4.7" fill="#000" stroke="#000" stroke-width="0.12">Acidimicrobiia</text>
<rect x="591" y="17.18" width="3.4" height="3" fill="#c000ff" stroke="#333" stroke-width="0.5"/>
<text x="598.4" y="20.58" font-size="4.7" fill="#000" stroke="#000" stroke-width="0.12">Acidobacteria-6</text>
<rect x="591" y="22.84" width="3.4" height="3" fill="#8000ff" stroke="#333" stroke-width="0.5"/>
<text x="598.4" y="26.24" font-size="4.7" fill="#000" stroke="#000" stroke-width="0.12">Verrucomicrobiae</text>
<rect x="591" y="28.50" width="3.4" height="3" fill="#4000ff" stroke="#333" stroke-width="0.5"/>
<text x="598.4" y="31.90" font-size="4.7" fill="#000" stroke="#000" stroke-width="0.12">Coriobacteriia</text>
<rect x="591" y="34.16" width="3.4" height="3" fill="#0000ff" stroke="#333" stroke-width="0.5"/>
<text x="598.4" y="37.56" font-size="4.7" fill="#000" stroke="#000" stroke-width="0.12">Epsilonproteobacteria</text>
<rect x="591" y="39.82" width="3.4" height="3" fill="#0040ff" stroke="#333" stroke-width="0.5"/>
<text x="598.4" y="43.22" font-size="4.7" fill="#000" stroke="#000" stroke-width="0.12">Deltaproteobacteria</text>
<rect x="591" y="45.48" width="3.4" height="3" fill="#0070ff" stroke="#333" stroke-width="0.5"/>
<text x="598.4" y="48.88" font-size="4.7" fill="#000" stroke="#000" stroke-width="0.12">Solibacteres</text>
<rect x="591" y="51.14" width="3.4" height="3" fill="#00c0ff" stroke="#333" stroke-width="0.5"/>
<text x="598.4" y="54.54" font-size="4.7" fill="#000" stroke="#000" stroke-width="0.12">Fusobacteriia</text>
<rect x="591" y="56.80" width="3.4" height="3" fill="#00ffee" stroke="#333" stroke-width="0.5"/>
<text x="598.4" y="60.20" font-size="4.7" fill="#000" stroke="#000" stroke-width="0.12">Thermoleophilia</text>
<rect x="591" y="62.46" width="3.4" height="3" fill="#00ffc0" stroke="#333" stroke-width="0.5"/>
<text x="598.4" y="65.86" font-size="4.7" fill="#000" stroke="#000" stroke-width="0.12">Betaproteobacteria</text>
<rect x="591" y="68.12" width="3.4" height="3" fill="#00ff90" stroke="#333" stroke-width="0.5"/>
<text x="598.4" y="71.52" font-size="4.7" fill="#000" stroke="#000" stroke-width="0.12">[Spartobacteria]</text>
<rect x="591" y="73.78" width="3.4" height="3" fill="#00ff50" stroke="#333" stroke-width="0.5"/>
<text x="598.4" y="77.18" font-size="4.7" fill="#000" stroke="#000" stroke-width="0.12">Acidobacteria</text>
<rect x="591" y="79.44" width="3.4" height="3" fill="#40ff00" stroke="#333" stroke-width="0.5"/>
<text x="598.4" y="82.84" font-size="4.7" fill="#000" stroke="#000" stroke-width="0.12">Erysipelotrichi</text>
<rect x="591" y="85.10" width="3.4" height="3" fill="#70ff00" stroke="#333" stroke-width="0.5"/>
<text x="598.4" y="88.50" font-size="4.7" fill="#000" stroke="#000" stroke-width="0.12">Gammaproteobacteria</text>
<rect x="591" y="90.76" width="3.4" height="3" fill="#b0ff00" stroke="#333" stroke-width="0.5"/>
<text x="598.4" y="94.16" font-size="4.7" fill="#000" stroke="#000" stroke-width="0.12">Alphaproteobacteria</text>
<rect x="591" y="96.42" width="3.4" height="3" fill="#ffff00" stroke="#333" stroke-width="0.5"/>
<text x="598.4" y="99.82" font-size="4.7" fill="#000" stroke="#000" stroke-width="0.12">Bacilli</text>
<rect x="591" y="102.08" width="3.4" height="3" fill="#ffbf00" stroke="#333" stroke-width="0.5"/>
<text x="598.4" y="105.48" font-size="4.7" fill="#000" stroke="#000" stroke-width="0.12">Actinobacteria</text>
<rect x="591" y="107.74" width="3.4" height="3" fill="#ff8000" stroke="#333" stroke-width="0.5"/>
<text x="598.4" y="111.14" font-size="4.7" fill="#000" stroke="#000" stroke-width="0.12">Bacteroidia</text>
<rect x="591" y="113.40" width="3.4" height="3" fill="#ff0000" stroke="#333" stroke-width="0.5"/>
<text x="598.4" y="116.80" font-size="4.7" fill="#000" stroke="#000" stroke-width="0.12">Clostridia</text>
<rect x="591.3" y="151.20" width="3.4" height="3" fill="#ff0060" stroke="#333" stroke-width="0.5"/>
<text x="598.3" y="154.40" font-size="4.45" fill="#000" stroke="#000" stroke-width="0.12">Other</text>
<rect x="591.3" y="156.56" width="3.4" height="3" fill="#ff00bf" stroke="#333" stroke-width="0.5"/>
<text x="598.3" y="159.76" font-size="4.45" fill="#000" stroke="#000" stroke-width="0.12">09123 Folding, sorting and degradation</text>
<rect x="591.3" y="161.92" width="3.4" height="3" fill="#df00ff" stroke="#333" stroke-width="0.5"/>
<text x="598.3" y="165.12" font-size="4.45" fill="#000" stroke="#000" stroke-width="0.12">09103 Lipid metabolism</text>
<rect x="591.3" y="167.28" width="3.4" height="3" fill="#8000ff" stroke="#333" stroke-width="0.5"/>
<text x="598.3" y="170.48" font-size="4.45" fill="#000" stroke="#000" stroke-width="0.12">09183 Cellular processes and signaling</text>
<rect x="591.3" y="172.64" width="3.4" height="3" fill="#2000ff" stroke="#333" stroke-width="0.5"/>
<text x="598.3" y="175.84" font-size="4.45" fill="#000" stroke="#000" stroke-width="0.12">09121 Transcription</text>
<rect x="591.3" y="178.00" width="3.4" height="3" fill="#0040ff" stroke="#333" stroke-width="0.5"/>
<text x="598.3" y="181.20" font-size="4.45" fill="#000" stroke="#000" stroke-width="0.12">09181 Metabolism</text>
<rect x="591.3" y="183.36" width="3.4" height="3" fill="#009fff" stroke="#333" stroke-width="0.5"/>
<text x="598.3" y="186.56" font-size="4.45" fill="#000" stroke="#000" stroke-width="0.12">09112 Enzyme families</text>
<rect x="591.3" y="188.72" width="3.4" height="3" fill="#00ffff" stroke="#333" stroke-width="0.5"/>
<text x="598.3" y="191.92" font-size="4.45" fill="#000" stroke="#000" stroke-width="0.12">09184 Poorly characterized</text>
<rect x="591.3" y="194.08" width="3.4" height="3" fill="#00ff9f" stroke="#333" stroke-width="0.5"/>
<text x="598.3" y="197.28" font-size="4.45" fill="#000" stroke="#000" stroke-width="0.12">09108 Metabolism of cofactors and vitamins</text>
<rect x="591.3" y="199.44" width="3.4" height="3" fill="#00ff40" stroke="#333" stroke-width="0.5"/>
<text x="598.3" y="202.64" font-size="4.45" fill="#000" stroke="#000" stroke-width="0.12">09102 Energy metabolism</text>
<rect x="591.3" y="204.80" width="3.4" height="3" fill="#20ff00" stroke="#333" stroke-width="0.5"/>
<text x="598.3" y="208.00" font-size="4.45" fill="#000" stroke="#000" stroke-width="0.12">09124 Replication and repair</text>
<rect x="591.3" y="210.16" width="3.4" height="3" fill="#80ff00" stroke="#333" stroke-width="0.5"/>
<text x="598.3" y="213.36" font-size="4.45" fill="#000" stroke="#000" stroke-width="0.12">09104 Nucleotide metabolism</text>
<rect x="591.3" y="215.52" width="3.4" height="3" fill="#dfff00" stroke="#333" stroke-width="0.5"/>
<text x="598.3" y="218.72" font-size="4.45" fill="#000" stroke="#000" stroke-width="0.12">09105 Amino acid metabolism</text>
<rect x="591.3" y="220.88" width="3.4" height="3" fill="#ffbf00" stroke="#333" stroke-width="0.5"/>
<text x="598.3" y="224.08" font-size="4.45" fill="#000" stroke="#000" stroke-width="0.12">09122 Translation</text>
<rect x="591.3" y="226.24" width="3.4" height="3" fill="#ff6000" stroke="#333" stroke-width="0.5"/>
<text x="598.3" y="229.44" font-size="4.45" fill="#000" stroke="#000" stroke-width="0.12">09131 Membrane transport</text>
<rect x="591.3" y="231.60" width="3.4" height="3" fill="#ff0000" stroke="#333" stroke-width="0.5"/>
<text x="598.3" y="234.80" font-size="4.45" fill="#000" stroke="#000" stroke-width="0.12">09101 Carbohydrate metabolism</text>
<path d="M26.3,264.5 V268.3 Q26.3,269.4 27.400000000000002,269.4 H125.7 Q126.8,269.4 126.8,268.3 V264.5 M76.4,269.4 V273.3" fill="none" stroke="#4a7bd0" stroke-width="0.9"/>
<text x="45.5" y="289.8" font-size="11.6" fill="#111" stroke="#111" stroke-width="0.2" textLength="60.3" lengthAdjust="spacingAndGlyphs">Human_KW</text>
<path d="M130.3,264.5 V268.3 Q130.3,269.4 131.4,269.4 H339.79999999999995 Q340.9,269.4 340.9,268.3 V264.5 M235.8,269.4 V273.3" fill="none" stroke="#4a7bd0" stroke-width="0.9"/>
<text x="209.5" y="289.8" font-size="11.6" fill="#111" stroke="#111" stroke-width="0.2" textLength="55.3" lengthAdjust="spacingAndGlyphs">Human_TY</text>
<path d="M344.4,264.5 V268.3 Q344.4,269.4 345.5,269.4 H376.59999999999997 Q377.7,269.4 377.7,268.3 V264.5 M360.2,269.4 V273.3" fill="none" stroke="#4a7bd0" stroke-width="0.9"/>
<text x="340.9" y="289.8" font-size="11.6" fill="#111" stroke="#111" stroke-width="0.2" textLength="33.3" lengthAdjust="spacingAndGlyphs">Gorilla</text>
<path d="M380.5,264.5 V268.3 Q380.5,269.4 381.6,269.4 H405.29999999999995 Q406.4,269.4 406.4,268.3 V264.5 M393.4,269.4 V273.3" fill="none" stroke="#4a7bd0" stroke-width="0.9"/>
<text x="377.7" y="289.8" font-size="11.6" fill="#111" stroke="#111" stroke-width="0.2" textLength="34.3" lengthAdjust="spacingAndGlyphs">Mouse</text>
<path d="M409.2,264.5 V268.3 Q409.2,269.4 410.3,269.4 H469.09999999999997 Q470.2,269.4 470.2,268.3 V264.5 M440.0,269.4 V273.3" fill="none" stroke="#4a7bd0" stroke-width="0.9"/>
<text x="419.7" y="289.8" font-size="11.6" fill="#111" stroke="#111" stroke-width="0.2" textLength="38.6" lengthAdjust="spacingAndGlyphs">Chicken</text>
<path d="M473.0,264.5 V268.3 Q473.0,269.4 474.1,269.4 H538.5 Q539.6,269.4 539.6,268.3 V264.5 M506.3,269.4 V273.3" fill="none" stroke="#4a7bd0" stroke-width="0.9"/>
<text x="479.3" y="289.8" font-size="11.6" fill="#111" stroke="#111" stroke-width="0.2" textLength="50.8" lengthAdjust="spacingAndGlyphs">Soil_LWM</text>
<path d="M542.0,264.5 V268.3 Q542.0,269.4 543.1,269.4 H572.5 Q573.6,269.4 573.6,268.3 V264.5 M557.8,269.4 V273.3" fill="none" stroke="#4a7bd0" stroke-width="0.9"/>
<text x="537.9" y="289.8" font-size="11.6" fill="#111" stroke="#111" stroke-width="0.2" textLength="46.6" lengthAdjust="spacingAndGlyphs">Soil_AAN</text>
<text transform="translate(-0.9,8.6) scale(0.9,1)" font-size="13.6" fill="#000" stroke="#000" stroke-width="0.35">a</text>
<text x="-1.0" y="139.6" font-size="14.2" fill="#000" stroke="#000" stroke-width="0.3">b</text>
</svg>
</body></html>
